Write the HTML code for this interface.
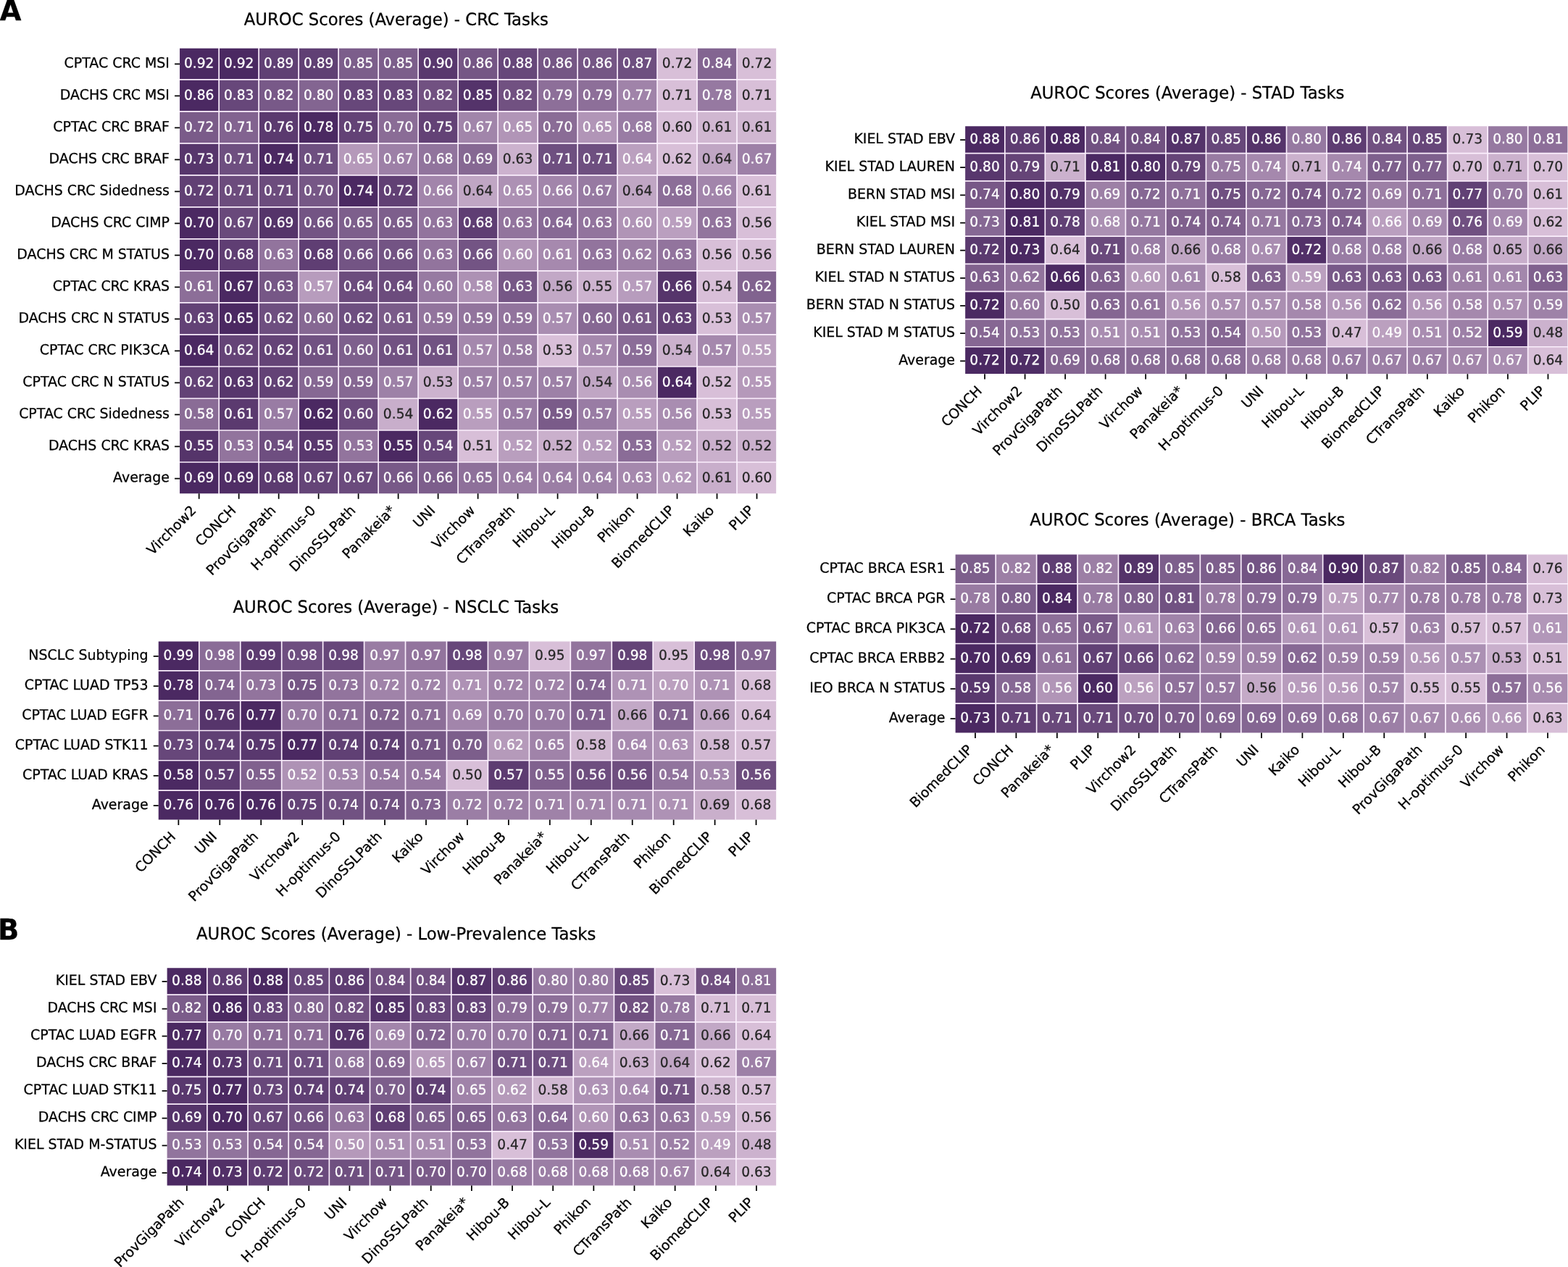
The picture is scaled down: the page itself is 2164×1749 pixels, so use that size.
<!DOCTYPE html>
<html lang="en"><head><meta charset="utf-8"><title>AUROC Scores Heatmaps</title>
<style>
html,body{margin:0;padding:0;background:#fff}
body{width:2164px;height:1749px;overflow:hidden}
svg{display:block;font-family:"DejaVu Sans","Liberation Sans",sans-serif}
text{white-space:pre;stroke:#000;stroke-width:0.27px;stroke-linejoin:round}
.w{fill:#fff;stroke:#fff}
.k{fill:#262626;stroke:#262626}
</style></head><body>
<svg width="2164" height="1749" viewBox="0 0 2164 1749">
<rect width="2164" height="1749" fill="#fff"/>
<text x="-0.2" y="27.9" font-size="38.3" font-weight="bold" fill="#000" stroke="none">A</text><text x="-2.9" y="1296.9" font-size="38.3" font-weight="bold" fill="#000" stroke="none">B</text>
<g>
<clipPath id="cp-crc"><rect x="248.04" y="66.78" width="823.11" height="614.37"/></clipPath>
<g clip-path="url(#cp-crc)"><rect x="247.19" y="65.93" width="54.99" height="44" fill="#4b2962"/><rect x="302.18" y="65.93" width="54.99" height="44" fill="#4b2962"/><rect x="357.16" y="65.93" width="54.99" height="44" fill="#604074"/><rect x="412.15" y="65.93" width="54.99" height="44" fill="#604074"/><rect x="467.14" y="65.93" width="54.99" height="44" fill="#7c5e8b"/><rect x="522.13" y="65.93" width="54.99" height="44" fill="#7c5e8b"/><rect x="577.11" y="65.93" width="54.99" height="44" fill="#59386e"/><rect x="632.1" y="65.93" width="54.99" height="44" fill="#755685"/><rect x="687.09" y="65.93" width="54.99" height="44" fill="#67477a"/><rect x="742.08" y="65.93" width="54.99" height="44" fill="#755685"/><rect x="797.06" y="65.93" width="54.99" height="44" fill="#755685"/><rect x="852.05" y="65.93" width="54.99" height="44" fill="#6e4f80"/><rect x="907.04" y="65.93" width="54.99" height="44" fill="#d8bfd8"/><rect x="962.03" y="65.93" width="54.99" height="44" fill="#836591"/><rect x="1017.01" y="65.93" width="54.99" height="44" fill="#d8bfd8"/><rect x="247.19" y="109.94" width="54.99" height="44" fill="#4b2962"/><rect x="302.18" y="109.94" width="54.99" height="44" fill="#67477a"/><rect x="357.16" y="109.94" width="54.99" height="44" fill="#785988"/><rect x="412.15" y="109.94" width="54.99" height="44" fill="#836591"/><rect x="467.14" y="109.94" width="54.99" height="44" fill="#67477a"/><rect x="522.13" y="109.94" width="54.99" height="44" fill="#67477a"/><rect x="577.11" y="109.94" width="54.99" height="44" fill="#715181"/><rect x="632.1" y="109.94" width="54.99" height="44" fill="#54336a"/><rect x="687.09" y="109.94" width="54.99" height="44" fill="#715181"/><rect x="742.08" y="109.94" width="54.99" height="44" fill="#8d6f99"/><rect x="797.06" y="109.94" width="54.99" height="44" fill="#8d6f99"/><rect x="852.05" y="109.94" width="54.99" height="44" fill="#a083a9"/><rect x="907.04" y="109.94" width="54.99" height="44" fill="#d8bfd8"/><rect x="962.03" y="109.94" width="54.99" height="44" fill="#9679a1"/><rect x="1017.01" y="109.94" width="54.99" height="44" fill="#d8bfd8"/><rect x="247.19" y="153.94" width="54.99" height="44" fill="#7a5b89"/><rect x="302.18" y="153.94" width="54.99" height="44" fill="#826390"/><rect x="357.16" y="153.94" width="54.99" height="44" fill="#5b3a6f"/><rect x="412.15" y="153.94" width="54.99" height="44" fill="#4b2962"/><rect x="467.14" y="153.94" width="54.99" height="44" fill="#634276"/><rect x="522.13" y="153.94" width="54.99" height="44" fill="#8a6c96"/><rect x="577.11" y="153.94" width="54.99" height="44" fill="#634276"/><rect x="632.1" y="153.94" width="54.99" height="44" fill="#a185aa"/><rect x="687.09" y="153.94" width="54.99" height="44" fill="#b195b7"/><rect x="742.08" y="153.94" width="54.99" height="44" fill="#8a6c96"/><rect x="797.06" y="153.94" width="54.99" height="44" fill="#b195b7"/><rect x="852.05" y="153.94" width="54.99" height="44" fill="#997ca4"/><rect x="907.04" y="153.94" width="54.99" height="44" fill="#d8bfd8"/><rect x="962.03" y="153.94" width="54.99" height="44" fill="#d0b7d1"/><rect x="1017.01" y="153.94" width="54.99" height="44" fill="#d0b7d1"/><rect x="247.19" y="197.94" width="54.99" height="44" fill="#57366c"/><rect x="302.18" y="197.94" width="54.99" height="44" fill="#6e4f80"/><rect x="357.16" y="197.94" width="54.99" height="44" fill="#4b2962"/><rect x="412.15" y="197.94" width="54.99" height="44" fill="#6e4f80"/><rect x="467.14" y="197.94" width="54.99" height="44" fill="#b599ba"/><rect x="522.13" y="197.94" width="54.99" height="44" fill="#9d80a7"/><rect x="577.11" y="197.94" width="54.99" height="44" fill="#91749d"/><rect x="632.1" y="197.94" width="54.99" height="44" fill="#866893"/><rect x="687.09" y="197.94" width="54.99" height="44" fill="#ccb2ce"/><rect x="742.08" y="197.94" width="54.99" height="44" fill="#6e4f80"/><rect x="797.06" y="197.94" width="54.99" height="44" fill="#6e4f80"/><rect x="852.05" y="197.94" width="54.99" height="44" fill="#bba0bf"/><rect x="907.04" y="197.94" width="54.99" height="44" fill="#d8bfd8"/><rect x="962.03" y="197.94" width="54.99" height="44" fill="#c0a6c4"/><rect x="1017.01" y="197.94" width="54.99" height="44" fill="#9d80a7"/><rect x="247.19" y="241.95" width="54.99" height="44" fill="#614074"/><rect x="302.18" y="241.95" width="54.99" height="44" fill="#6c4c7d"/><rect x="357.16" y="241.95" width="54.99" height="44" fill="#6c4c7d"/><rect x="412.15" y="241.95" width="54.99" height="44" fill="#765786"/><rect x="467.14" y="241.95" width="54.99" height="44" fill="#4b2962"/><rect x="522.13" y="241.95" width="54.99" height="44" fill="#614074"/><rect x="577.11" y="241.95" width="54.99" height="44" fill="#a285ab"/><rect x="632.1" y="241.95" width="54.99" height="44" fill="#c0a6c4"/><rect x="687.09" y="241.95" width="54.99" height="44" fill="#ad91b4"/><rect x="742.08" y="241.95" width="54.99" height="44" fill="#a285ab"/><rect x="797.06" y="241.95" width="54.99" height="44" fill="#977aa2"/><rect x="852.05" y="241.95" width="54.99" height="44" fill="#c0a6c4"/><rect x="907.04" y="241.95" width="54.99" height="44" fill="#8c6e98"/><rect x="962.03" y="241.95" width="54.99" height="44" fill="#a285ab"/><rect x="1017.01" y="241.95" width="54.99" height="44" fill="#d8bfd8"/><rect x="247.19" y="285.95" width="54.99" height="44" fill="#4b2962"/><rect x="302.18" y="285.95" width="54.99" height="44" fill="#69497b"/><rect x="357.16" y="285.95" width="54.99" height="44" fill="#55346a"/><rect x="412.15" y="285.95" width="54.99" height="44" fill="#735484"/><rect x="467.14" y="285.95" width="54.99" height="44" fill="#7d5f8c"/><rect x="522.13" y="285.95" width="54.99" height="44" fill="#7d5f8c"/><rect x="577.11" y="285.95" width="54.99" height="44" fill="#92749d"/><rect x="632.1" y="285.95" width="54.99" height="44" fill="#5f3e73"/><rect x="687.09" y="285.95" width="54.99" height="44" fill="#92749d"/><rect x="742.08" y="285.95" width="54.99" height="44" fill="#876995"/><rect x="797.06" y="285.95" width="54.99" height="44" fill="#92749d"/><rect x="852.05" y="285.95" width="54.99" height="44" fill="#b094b6"/><rect x="907.04" y="285.95" width="54.99" height="44" fill="#ba9fbf"/><rect x="962.03" y="285.95" width="54.99" height="44" fill="#92749d"/><rect x="1017.01" y="285.95" width="54.99" height="44" fill="#d8bfd8"/><rect x="247.19" y="329.96" width="54.99" height="44" fill="#4b2962"/><rect x="302.18" y="329.96" width="54.99" height="44" fill="#5f3e73"/><rect x="357.16" y="329.96" width="54.99" height="44" fill="#92749d"/><rect x="412.15" y="329.96" width="54.99" height="44" fill="#5f3e73"/><rect x="467.14" y="329.96" width="54.99" height="44" fill="#735484"/><rect x="522.13" y="329.96" width="54.99" height="44" fill="#735484"/><rect x="577.11" y="329.96" width="54.99" height="44" fill="#92749d"/><rect x="632.1" y="329.96" width="54.99" height="44" fill="#735484"/><rect x="687.09" y="329.96" width="54.99" height="44" fill="#b094b6"/><rect x="742.08" y="329.96" width="54.99" height="44" fill="#a689ae"/><rect x="797.06" y="329.96" width="54.99" height="44" fill="#92749d"/><rect x="852.05" y="329.96" width="54.99" height="44" fill="#9c7fa5"/><rect x="907.04" y="329.96" width="54.99" height="44" fill="#92749d"/><rect x="962.03" y="329.96" width="54.99" height="44" fill="#d8bfd8"/><rect x="1017.01" y="329.96" width="54.99" height="44" fill="#d8bfd8"/><rect x="247.19" y="373.96" width="54.99" height="44" fill="#8c6e98"/><rect x="302.18" y="373.96" width="54.99" height="44" fill="#4b2962"/><rect x="357.16" y="373.96" width="54.99" height="44" fill="#765786"/><rect x="412.15" y="373.96" width="54.99" height="44" fill="#b79cbd"/><rect x="467.14" y="373.96" width="54.99" height="44" fill="#6c4c7d"/><rect x="522.13" y="373.96" width="54.99" height="44" fill="#6c4c7d"/><rect x="577.11" y="373.96" width="54.99" height="44" fill="#977aa2"/><rect x="632.1" y="373.96" width="54.99" height="44" fill="#ad91b4"/><rect x="687.09" y="373.96" width="54.99" height="44" fill="#765786"/><rect x="742.08" y="373.96" width="54.99" height="44" fill="#c2a8c6"/><rect x="797.06" y="373.96" width="54.99" height="44" fill="#cdb3cf"/><rect x="852.05" y="373.96" width="54.99" height="44" fill="#b79cbd"/><rect x="907.04" y="373.96" width="54.99" height="44" fill="#56356b"/><rect x="962.03" y="373.96" width="54.99" height="44" fill="#d8bfd8"/><rect x="1017.01" y="373.96" width="54.99" height="44" fill="#81638f"/><rect x="247.19" y="417.97" width="54.99" height="44" fill="#634276"/><rect x="302.18" y="417.97" width="54.99" height="44" fill="#4b2962"/><rect x="357.16" y="417.97" width="54.99" height="44" fill="#6e4f80"/><rect x="412.15" y="417.97" width="54.99" height="44" fill="#866893"/><rect x="467.14" y="417.97" width="54.99" height="44" fill="#6e4f80"/><rect x="522.13" y="417.97" width="54.99" height="44" fill="#7a5b89"/><rect x="577.11" y="417.97" width="54.99" height="44" fill="#92749d"/><rect x="632.1" y="417.97" width="54.99" height="44" fill="#92749d"/><rect x="687.09" y="417.97" width="54.99" height="44" fill="#92749d"/><rect x="742.08" y="417.97" width="54.99" height="44" fill="#a98db1"/><rect x="797.06" y="417.97" width="54.99" height="44" fill="#866893"/><rect x="852.05" y="417.97" width="54.99" height="44" fill="#7a5b89"/><rect x="907.04" y="417.97" width="54.99" height="44" fill="#634276"/><rect x="962.03" y="417.97" width="54.99" height="44" fill="#d8bfd8"/><rect x="1017.01" y="417.97" width="54.99" height="44" fill="#a98db1"/><rect x="247.19" y="461.97" width="54.99" height="44" fill="#4b2962"/><rect x="302.18" y="461.97" width="54.99" height="44" fill="#654477"/><rect x="357.16" y="461.97" width="54.99" height="44" fill="#654477"/><rect x="412.15" y="461.97" width="54.99" height="44" fill="#715282"/><rect x="467.14" y="461.97" width="54.99" height="44" fill="#7e608d"/><rect x="522.13" y="461.97" width="54.99" height="44" fill="#715282"/><rect x="577.11" y="461.97" width="54.99" height="44" fill="#715282"/><rect x="632.1" y="461.97" width="54.99" height="44" fill="#a588ad"/><rect x="687.09" y="461.97" width="54.99" height="44" fill="#987ba2"/><rect x="742.08" y="461.97" width="54.99" height="44" fill="#d8bfd8"/><rect x="797.06" y="461.97" width="54.99" height="44" fill="#a588ad"/><rect x="852.05" y="461.97" width="54.99" height="44" fill="#8b6d98"/><rect x="907.04" y="461.97" width="54.99" height="44" fill="#cbb1cd"/><rect x="962.03" y="461.97" width="54.99" height="44" fill="#a588ad"/><rect x="1017.01" y="461.97" width="54.99" height="44" fill="#bba0bf"/><rect x="247.19" y="505.98" width="54.99" height="44" fill="#634276"/><rect x="302.18" y="505.98" width="54.99" height="44" fill="#57366c"/><rect x="357.16" y="505.98" width="54.99" height="44" fill="#634276"/><rect x="412.15" y="505.98" width="54.99" height="44" fill="#866893"/><rect x="467.14" y="505.98" width="54.99" height="44" fill="#866893"/><rect x="522.13" y="505.98" width="54.99" height="44" fill="#9d81a7"/><rect x="577.11" y="505.98" width="54.99" height="44" fill="#ccb2ce"/><rect x="632.1" y="505.98" width="54.99" height="44" fill="#9d81a7"/><rect x="687.09" y="505.98" width="54.99" height="44" fill="#9d81a7"/><rect x="742.08" y="505.98" width="54.99" height="44" fill="#9d81a7"/><rect x="797.06" y="505.98" width="54.99" height="44" fill="#c0a6c4"/><rect x="852.05" y="505.98" width="54.99" height="44" fill="#a98db1"/><rect x="907.04" y="505.98" width="54.99" height="44" fill="#4b2962"/><rect x="962.03" y="505.98" width="54.99" height="44" fill="#d8bfd8"/><rect x="1017.01" y="505.98" width="54.99" height="44" fill="#b599ba"/><rect x="247.19" y="549.98" width="54.99" height="44" fill="#8a6c96"/><rect x="302.18" y="549.98" width="54.99" height="44" fill="#5b3a6f"/><rect x="357.16" y="549.98" width="54.99" height="44" fill="#997ca4"/><rect x="412.15" y="549.98" width="54.99" height="44" fill="#4b2962"/><rect x="467.14" y="549.98" width="54.99" height="44" fill="#6a4a7c"/><rect x="522.13" y="549.98" width="54.99" height="44" fill="#c8aecb"/><rect x="577.11" y="549.98" width="54.99" height="44" fill="#4b2962"/><rect x="632.1" y="549.98" width="54.99" height="44" fill="#b99ebe"/><rect x="687.09" y="549.98" width="54.99" height="44" fill="#997ca4"/><rect x="742.08" y="549.98" width="54.99" height="44" fill="#7a5b89"/><rect x="797.06" y="549.98" width="54.99" height="44" fill="#997ca4"/><rect x="852.05" y="549.98" width="54.99" height="44" fill="#b99ebe"/><rect x="907.04" y="549.98" width="54.99" height="44" fill="#a98db1"/><rect x="962.03" y="549.98" width="54.99" height="44" fill="#d8bfd8"/><rect x="1017.01" y="549.98" width="54.99" height="44" fill="#b99ebe"/><rect x="247.19" y="593.99" width="54.99" height="44" fill="#55346a"/><rect x="302.18" y="593.99" width="54.99" height="44" fill="#92749d"/><rect x="357.16" y="593.99" width="54.99" height="44" fill="#6e4e80"/><rect x="412.15" y="593.99" width="54.99" height="44" fill="#59386e"/><rect x="467.14" y="593.99" width="54.99" height="44" fill="#92749d"/><rect x="522.13" y="593.99" width="54.99" height="44" fill="#4b2962"/><rect x="577.11" y="593.99" width="54.99" height="44" fill="#67477a"/><rect x="632.1" y="593.99" width="54.99" height="44" fill="#d8bfd8"/><rect x="687.09" y="593.99" width="54.99" height="44" fill="#b99ebe"/><rect x="742.08" y="593.99" width="54.99" height="44" fill="#cab0cc"/><rect x="797.06" y="593.99" width="54.99" height="44" fill="#b69bbc"/><rect x="852.05" y="593.99" width="54.99" height="44" fill="#8a6c97"/><rect x="907.04" y="593.99" width="54.99" height="44" fill="#b99ebe"/><rect x="962.03" y="593.99" width="54.99" height="44" fill="#cab0cc"/><rect x="1017.01" y="593.99" width="54.99" height="44" fill="#cab0cc"/><rect x="247.19" y="637.99" width="54.99" height="44" fill="#4b2962"/><rect x="302.18" y="637.99" width="54.99" height="44" fill="#502e66"/><rect x="357.16" y="637.99" width="54.99" height="44" fill="#5c3b70"/><rect x="412.15" y="637.99" width="54.99" height="44" fill="#654578"/><rect x="467.14" y="637.99" width="54.99" height="44" fill="#6b4b7d"/><rect x="522.13" y="637.99" width="54.99" height="44" fill="#785988"/><rect x="577.11" y="637.99" width="54.99" height="44" fill="#7d5e8c"/><rect x="632.1" y="637.99" width="54.99" height="44" fill="#8e709a"/><rect x="687.09" y="637.99" width="54.99" height="44" fill="#9a7da4"/><rect x="742.08" y="637.99" width="54.99" height="44" fill="#9b7ea5"/><rect x="797.06" y="637.99" width="54.99" height="44" fill="#9d81a7"/><rect x="852.05" y="637.99" width="54.99" height="44" fill="#a588ad"/><rect x="907.04" y="637.99" width="54.99" height="44" fill="#b499ba"/><rect x="962.03" y="637.99" width="54.99" height="44" fill="#c8aecb"/><rect x="1017.01" y="637.99" width="54.99" height="44" fill="#d8bfd8"/></g>
<path d="M302.18 65.93V682M357.16 65.93V682M412.15 65.93V682M467.14 65.93V682M522.13 65.93V682M577.11 65.93V682M632.1 65.93V682M687.09 65.93V682M742.08 65.93V682M797.06 65.93V682M852.05 65.93V682M907.04 65.93V682M962.03 65.93V682M1017.01 65.93V682" stroke="#fbeffd" stroke-opacity="1" stroke-width="1.7" fill="none"/>
<path d="M247.19 109.94H1072M247.19 153.94H1072M247.19 197.94H1072M247.19 241.95H1072M247.19 285.95H1072M247.19 329.96H1072M247.19 373.96H1072M247.19 417.97H1072M247.19 461.97H1072M247.19 505.98H1072M247.19 549.98H1072M247.19 593.99H1072M247.19 637.99H1072" stroke="#fbeffd" stroke-opacity="1" stroke-width="1.7" fill="none"/>
<g font-size="18.65" text-anchor="middle"><text class="w" transform="matrix(1 0.0005 0 1.02 274.68 93.38)">0.92</text><text class="w" transform="matrix(1 0.0005 0 1.02 329.67 93.38)">0.92</text><text class="w" transform="matrix(1 0.0005 0 1.02 384.66 93.38)">0.89</text><text class="w" transform="matrix(1 0.0005 0 1.02 439.65 93.38)">0.89</text><text class="w" transform="matrix(1 0.0005 0 1.02 494.63 93.38)">0.85</text><text class="w" transform="matrix(1 0.0005 0 1.02 549.62 93.38)">0.85</text><text class="w" transform="matrix(1 0.0005 0 1.02 604.61 93.38)">0.90</text><text class="w" transform="matrix(1 0.0005 0 1.02 659.59 93.38)">0.86</text><text class="w" transform="matrix(1 0.0005 0 1.02 714.58 93.38)">0.88</text><text class="w" transform="matrix(1 0.0005 0 1.02 769.57 93.38)">0.86</text><text class="w" transform="matrix(1 0.0005 0 1.02 824.56 93.38)">0.86</text><text class="w" transform="matrix(1 0.0005 0 1.02 879.54 93.38)">0.87</text><text class="k" transform="matrix(1 0.0005 0 1.02 934.53 93.38)">0.72</text><text class="w" transform="matrix(1 0.0005 0 1.02 989.52 93.38)">0.84</text><text class="k" transform="matrix(1 0.0005 0 1.02 1044.51 93.38)">0.72</text><text class="w" transform="matrix(1 0.0005 0 1.02 274.68 137.39)">0.86</text><text class="w" transform="matrix(1 0.0005 0 1.02 329.67 137.39)">0.83</text><text class="w" transform="matrix(1 0.0005 0 1.02 384.66 137.39)">0.82</text><text class="w" transform="matrix(1 0.0005 0 1.02 439.65 137.39)">0.80</text><text class="w" transform="matrix(1 0.0005 0 1.02 494.63 137.39)">0.83</text><text class="w" transform="matrix(1 0.0005 0 1.02 549.62 137.39)">0.83</text><text class="w" transform="matrix(1 0.0005 0 1.02 604.61 137.39)">0.82</text><text class="w" transform="matrix(1 0.0005 0 1.02 659.59 137.39)">0.85</text><text class="w" transform="matrix(1 0.0005 0 1.02 714.58 137.39)">0.82</text><text class="w" transform="matrix(1 0.0005 0 1.02 769.57 137.39)">0.79</text><text class="w" transform="matrix(1 0.0005 0 1.02 824.56 137.39)">0.79</text><text class="w" transform="matrix(1 0.0005 0 1.02 879.54 137.39)">0.77</text><text class="k" transform="matrix(1 0.0005 0 1.02 934.53 137.39)">0.71</text><text class="w" transform="matrix(1 0.0005 0 1.02 989.52 137.39)">0.78</text><text class="k" transform="matrix(1 0.0005 0 1.02 1044.51 137.39)">0.71</text><text class="w" transform="matrix(1 0.0005 0 1.02 274.68 181.39)">0.72</text><text class="w" transform="matrix(1 0.0005 0 1.02 329.67 181.39)">0.71</text><text class="w" transform="matrix(1 0.0005 0 1.02 384.66 181.39)">0.76</text><text class="w" transform="matrix(1 0.0005 0 1.02 439.65 181.39)">0.78</text><text class="w" transform="matrix(1 0.0005 0 1.02 494.63 181.39)">0.75</text><text class="w" transform="matrix(1 0.0005 0 1.02 549.62 181.39)">0.70</text><text class="w" transform="matrix(1 0.0005 0 1.02 604.61 181.39)">0.75</text><text class="w" transform="matrix(1 0.0005 0 1.02 659.59 181.39)">0.67</text><text class="w" transform="matrix(1 0.0005 0 1.02 714.58 181.39)">0.65</text><text class="w" transform="matrix(1 0.0005 0 1.02 769.57 181.39)">0.70</text><text class="w" transform="matrix(1 0.0005 0 1.02 824.56 181.39)">0.65</text><text class="w" transform="matrix(1 0.0005 0 1.02 879.54 181.39)">0.68</text><text class="k" transform="matrix(1 0.0005 0 1.02 934.53 181.39)">0.60</text><text class="k" transform="matrix(1 0.0005 0 1.02 989.52 181.39)">0.61</text><text class="k" transform="matrix(1 0.0005 0 1.02 1044.51 181.39)">0.61</text><text class="w" transform="matrix(1 0.0005 0 1.02 274.68 225.4)">0.73</text><text class="w" transform="matrix(1 0.0005 0 1.02 329.67 225.4)">0.71</text><text class="w" transform="matrix(1 0.0005 0 1.02 384.66 225.4)">0.74</text><text class="w" transform="matrix(1 0.0005 0 1.02 439.65 225.4)">0.71</text><text class="w" transform="matrix(1 0.0005 0 1.02 494.63 225.4)">0.65</text><text class="w" transform="matrix(1 0.0005 0 1.02 549.62 225.4)">0.67</text><text class="w" transform="matrix(1 0.0005 0 1.02 604.61 225.4)">0.68</text><text class="w" transform="matrix(1 0.0005 0 1.02 659.59 225.4)">0.69</text><text class="k" transform="matrix(1 0.0005 0 1.02 714.58 225.4)">0.63</text><text class="w" transform="matrix(1 0.0005 0 1.02 769.57 225.4)">0.71</text><text class="w" transform="matrix(1 0.0005 0 1.02 824.56 225.4)">0.71</text><text class="w" transform="matrix(1 0.0005 0 1.02 879.54 225.4)">0.64</text><text class="k" transform="matrix(1 0.0005 0 1.02 934.53 225.4)">0.62</text><text class="k" transform="matrix(1 0.0005 0 1.02 989.52 225.4)">0.64</text><text class="w" transform="matrix(1 0.0005 0 1.02 1044.51 225.4)">0.67</text><text class="w" transform="matrix(1 0.0005 0 1.02 274.68 269.4)">0.72</text><text class="w" transform="matrix(1 0.0005 0 1.02 329.67 269.4)">0.71</text><text class="w" transform="matrix(1 0.0005 0 1.02 384.66 269.4)">0.71</text><text class="w" transform="matrix(1 0.0005 0 1.02 439.65 269.4)">0.70</text><text class="w" transform="matrix(1 0.0005 0 1.02 494.63 269.4)">0.74</text><text class="w" transform="matrix(1 0.0005 0 1.02 549.62 269.4)">0.72</text><text class="w" transform="matrix(1 0.0005 0 1.02 604.61 269.4)">0.66</text><text class="k" transform="matrix(1 0.0005 0 1.02 659.59 269.4)">0.64</text><text class="w" transform="matrix(1 0.0005 0 1.02 714.58 269.4)">0.65</text><text class="w" transform="matrix(1 0.0005 0 1.02 769.57 269.4)">0.66</text><text class="w" transform="matrix(1 0.0005 0 1.02 824.56 269.4)">0.67</text><text class="k" transform="matrix(1 0.0005 0 1.02 879.54 269.4)">0.64</text><text class="w" transform="matrix(1 0.0005 0 1.02 934.53 269.4)">0.68</text><text class="w" transform="matrix(1 0.0005 0 1.02 989.52 269.4)">0.66</text><text class="k" transform="matrix(1 0.0005 0 1.02 1044.51 269.4)">0.61</text><text class="w" transform="matrix(1 0.0005 0 1.02 274.68 313.41)">0.70</text><text class="w" transform="matrix(1 0.0005 0 1.02 329.67 313.41)">0.67</text><text class="w" transform="matrix(1 0.0005 0 1.02 384.66 313.41)">0.69</text><text class="w" transform="matrix(1 0.0005 0 1.02 439.65 313.41)">0.66</text><text class="w" transform="matrix(1 0.0005 0 1.02 494.63 313.41)">0.65</text><text class="w" transform="matrix(1 0.0005 0 1.02 549.62 313.41)">0.65</text><text class="w" transform="matrix(1 0.0005 0 1.02 604.61 313.41)">0.63</text><text class="w" transform="matrix(1 0.0005 0 1.02 659.59 313.41)">0.68</text><text class="w" transform="matrix(1 0.0005 0 1.02 714.58 313.41)">0.63</text><text class="w" transform="matrix(1 0.0005 0 1.02 769.57 313.41)">0.64</text><text class="w" transform="matrix(1 0.0005 0 1.02 824.56 313.41)">0.63</text><text class="w" transform="matrix(1 0.0005 0 1.02 879.54 313.41)">0.60</text><text class="w" transform="matrix(1 0.0005 0 1.02 934.53 313.41)">0.59</text><text class="w" transform="matrix(1 0.0005 0 1.02 989.52 313.41)">0.63</text><text class="k" transform="matrix(1 0.0005 0 1.02 1044.51 313.41)">0.56</text><text class="w" transform="matrix(1 0.0005 0 1.02 274.68 357.41)">0.70</text><text class="w" transform="matrix(1 0.0005 0 1.02 329.67 357.41)">0.68</text><text class="w" transform="matrix(1 0.0005 0 1.02 384.66 357.41)">0.63</text><text class="w" transform="matrix(1 0.0005 0 1.02 439.65 357.41)">0.68</text><text class="w" transform="matrix(1 0.0005 0 1.02 494.63 357.41)">0.66</text><text class="w" transform="matrix(1 0.0005 0 1.02 549.62 357.41)">0.66</text><text class="w" transform="matrix(1 0.0005 0 1.02 604.61 357.41)">0.63</text><text class="w" transform="matrix(1 0.0005 0 1.02 659.59 357.41)">0.66</text><text class="w" transform="matrix(1 0.0005 0 1.02 714.58 357.41)">0.60</text><text class="w" transform="matrix(1 0.0005 0 1.02 769.57 357.41)">0.61</text><text class="w" transform="matrix(1 0.0005 0 1.02 824.56 357.41)">0.63</text><text class="w" transform="matrix(1 0.0005 0 1.02 879.54 357.41)">0.62</text><text class="w" transform="matrix(1 0.0005 0 1.02 934.53 357.41)">0.63</text><text class="k" transform="matrix(1 0.0005 0 1.02 989.52 357.41)">0.56</text><text class="k" transform="matrix(1 0.0005 0 1.02 1044.51 357.41)">0.56</text><text class="w" transform="matrix(1 0.0005 0 1.02 274.68 401.42)">0.61</text><text class="w" transform="matrix(1 0.0005 0 1.02 329.67 401.42)">0.67</text><text class="w" transform="matrix(1 0.0005 0 1.02 384.66 401.42)">0.63</text><text class="w" transform="matrix(1 0.0005 0 1.02 439.65 401.42)">0.57</text><text class="w" transform="matrix(1 0.0005 0 1.02 494.63 401.42)">0.64</text><text class="w" transform="matrix(1 0.0005 0 1.02 549.62 401.42)">0.64</text><text class="w" transform="matrix(1 0.0005 0 1.02 604.61 401.42)">0.60</text><text class="w" transform="matrix(1 0.0005 0 1.02 659.59 401.42)">0.58</text><text class="w" transform="matrix(1 0.0005 0 1.02 714.58 401.42)">0.63</text><text class="k" transform="matrix(1 0.0005 0 1.02 769.57 401.42)">0.56</text><text class="k" transform="matrix(1 0.0005 0 1.02 824.56 401.42)">0.55</text><text class="w" transform="matrix(1 0.0005 0 1.02 879.54 401.42)">0.57</text><text class="w" transform="matrix(1 0.0005 0 1.02 934.53 401.42)">0.66</text><text class="k" transform="matrix(1 0.0005 0 1.02 989.52 401.42)">0.54</text><text class="w" transform="matrix(1 0.0005 0 1.02 1044.51 401.42)">0.62</text><text class="w" transform="matrix(1 0.0005 0 1.02 274.68 445.42)">0.63</text><text class="w" transform="matrix(1 0.0005 0 1.02 329.67 445.42)">0.65</text><text class="w" transform="matrix(1 0.0005 0 1.02 384.66 445.42)">0.62</text><text class="w" transform="matrix(1 0.0005 0 1.02 439.65 445.42)">0.60</text><text class="w" transform="matrix(1 0.0005 0 1.02 494.63 445.42)">0.62</text><text class="w" transform="matrix(1 0.0005 0 1.02 549.62 445.42)">0.61</text><text class="w" transform="matrix(1 0.0005 0 1.02 604.61 445.42)">0.59</text><text class="w" transform="matrix(1 0.0005 0 1.02 659.59 445.42)">0.59</text><text class="w" transform="matrix(1 0.0005 0 1.02 714.58 445.42)">0.59</text><text class="w" transform="matrix(1 0.0005 0 1.02 769.57 445.42)">0.57</text><text class="w" transform="matrix(1 0.0005 0 1.02 824.56 445.42)">0.60</text><text class="w" transform="matrix(1 0.0005 0 1.02 879.54 445.42)">0.61</text><text class="w" transform="matrix(1 0.0005 0 1.02 934.53 445.42)">0.63</text><text class="k" transform="matrix(1 0.0005 0 1.02 989.52 445.42)">0.53</text><text class="w" transform="matrix(1 0.0005 0 1.02 1044.51 445.42)">0.57</text><text class="w" transform="matrix(1 0.0005 0 1.02 274.68 489.43)">0.64</text><text class="w" transform="matrix(1 0.0005 0 1.02 329.67 489.43)">0.62</text><text class="w" transform="matrix(1 0.0005 0 1.02 384.66 489.43)">0.62</text><text class="w" transform="matrix(1 0.0005 0 1.02 439.65 489.43)">0.61</text><text class="w" transform="matrix(1 0.0005 0 1.02 494.63 489.43)">0.60</text><text class="w" transform="matrix(1 0.0005 0 1.02 549.62 489.43)">0.61</text><text class="w" transform="matrix(1 0.0005 0 1.02 604.61 489.43)">0.61</text><text class="w" transform="matrix(1 0.0005 0 1.02 659.59 489.43)">0.57</text><text class="w" transform="matrix(1 0.0005 0 1.02 714.58 489.43)">0.58</text><text class="k" transform="matrix(1 0.0005 0 1.02 769.57 489.43)">0.53</text><text class="w" transform="matrix(1 0.0005 0 1.02 824.56 489.43)">0.57</text><text class="w" transform="matrix(1 0.0005 0 1.02 879.54 489.43)">0.59</text><text class="k" transform="matrix(1 0.0005 0 1.02 934.53 489.43)">0.54</text><text class="w" transform="matrix(1 0.0005 0 1.02 989.52 489.43)">0.57</text><text class="w" transform="matrix(1 0.0005 0 1.02 1044.51 489.43)">0.55</text><text class="w" transform="matrix(1 0.0005 0 1.02 274.68 533.43)">0.62</text><text class="w" transform="matrix(1 0.0005 0 1.02 329.67 533.43)">0.63</text><text class="w" transform="matrix(1 0.0005 0 1.02 384.66 533.43)">0.62</text><text class="w" transform="matrix(1 0.0005 0 1.02 439.65 533.43)">0.59</text><text class="w" transform="matrix(1 0.0005 0 1.02 494.63 533.43)">0.59</text><text class="w" transform="matrix(1 0.0005 0 1.02 549.62 533.43)">0.57</text><text class="k" transform="matrix(1 0.0005 0 1.02 604.61 533.43)">0.53</text><text class="w" transform="matrix(1 0.0005 0 1.02 659.59 533.43)">0.57</text><text class="w" transform="matrix(1 0.0005 0 1.02 714.58 533.43)">0.57</text><text class="w" transform="matrix(1 0.0005 0 1.02 769.57 533.43)">0.57</text><text class="k" transform="matrix(1 0.0005 0 1.02 824.56 533.43)">0.54</text><text class="w" transform="matrix(1 0.0005 0 1.02 879.54 533.43)">0.56</text><text class="w" transform="matrix(1 0.0005 0 1.02 934.53 533.43)">0.64</text><text class="k" transform="matrix(1 0.0005 0 1.02 989.52 533.43)">0.52</text><text class="w" transform="matrix(1 0.0005 0 1.02 1044.51 533.43)">0.55</text><text class="w" transform="matrix(1 0.0005 0 1.02 274.68 577.44)">0.58</text><text class="w" transform="matrix(1 0.0005 0 1.02 329.67 577.44)">0.61</text><text class="w" transform="matrix(1 0.0005 0 1.02 384.66 577.44)">0.57</text><text class="w" transform="matrix(1 0.0005 0 1.02 439.65 577.44)">0.62</text><text class="w" transform="matrix(1 0.0005 0 1.02 494.63 577.44)">0.60</text><text class="k" transform="matrix(1 0.0005 0 1.02 549.62 577.44)">0.54</text><text class="w" transform="matrix(1 0.0005 0 1.02 604.61 577.44)">0.62</text><text class="w" transform="matrix(1 0.0005 0 1.02 659.59 577.44)">0.55</text><text class="w" transform="matrix(1 0.0005 0 1.02 714.58 577.44)">0.57</text><text class="w" transform="matrix(1 0.0005 0 1.02 769.57 577.44)">0.59</text><text class="w" transform="matrix(1 0.0005 0 1.02 824.56 577.44)">0.57</text><text class="w" transform="matrix(1 0.0005 0 1.02 879.54 577.44)">0.55</text><text class="w" transform="matrix(1 0.0005 0 1.02 934.53 577.44)">0.56</text><text class="k" transform="matrix(1 0.0005 0 1.02 989.52 577.44)">0.53</text><text class="w" transform="matrix(1 0.0005 0 1.02 1044.51 577.44)">0.55</text><text class="w" transform="matrix(1 0.0005 0 1.02 274.68 621.44)">0.55</text><text class="w" transform="matrix(1 0.0005 0 1.02 329.67 621.44)">0.53</text><text class="w" transform="matrix(1 0.0005 0 1.02 384.66 621.44)">0.54</text><text class="w" transform="matrix(1 0.0005 0 1.02 439.65 621.44)">0.55</text><text class="w" transform="matrix(1 0.0005 0 1.02 494.63 621.44)">0.53</text><text class="w" transform="matrix(1 0.0005 0 1.02 549.62 621.44)">0.55</text><text class="w" transform="matrix(1 0.0005 0 1.02 604.61 621.44)">0.54</text><text class="k" transform="matrix(1 0.0005 0 1.02 659.59 621.44)">0.51</text><text class="w" transform="matrix(1 0.0005 0 1.02 714.58 621.44)">0.52</text><text class="k" transform="matrix(1 0.0005 0 1.02 769.57 621.44)">0.52</text><text class="w" transform="matrix(1 0.0005 0 1.02 824.56 621.44)">0.52</text><text class="w" transform="matrix(1 0.0005 0 1.02 879.54 621.44)">0.53</text><text class="w" transform="matrix(1 0.0005 0 1.02 934.53 621.44)">0.52</text><text class="k" transform="matrix(1 0.0005 0 1.02 989.52 621.44)">0.52</text><text class="k" transform="matrix(1 0.0005 0 1.02 1044.51 621.44)">0.52</text><text class="w" transform="matrix(1 0.0005 0 1.02 274.68 665.45)">0.69</text><text class="w" transform="matrix(1 0.0005 0 1.02 329.67 665.45)">0.69</text><text class="w" transform="matrix(1 0.0005 0 1.02 384.66 665.45)">0.68</text><text class="w" transform="matrix(1 0.0005 0 1.02 439.65 665.45)">0.67</text><text class="w" transform="matrix(1 0.0005 0 1.02 494.63 665.45)">0.67</text><text class="w" transform="matrix(1 0.0005 0 1.02 549.62 665.45)">0.66</text><text class="w" transform="matrix(1 0.0005 0 1.02 604.61 665.45)">0.66</text><text class="w" transform="matrix(1 0.0005 0 1.02 659.59 665.45)">0.65</text><text class="w" transform="matrix(1 0.0005 0 1.02 714.58 665.45)">0.64</text><text class="w" transform="matrix(1 0.0005 0 1.02 769.57 665.45)">0.64</text><text class="w" transform="matrix(1 0.0005 0 1.02 824.56 665.45)">0.64</text><text class="w" transform="matrix(1 0.0005 0 1.02 879.54 665.45)">0.63</text><text class="w" transform="matrix(1 0.0005 0 1.02 934.53 665.45)">0.62</text><text class="k" transform="matrix(1 0.0005 0 1.02 989.52 665.45)">0.61</text><text class="k" transform="matrix(1 0.0005 0 1.02 1044.51 665.45)">0.60</text></g>
<path d="M241.05 88.43H247.99M241.05 132.44H247.99M241.05 176.44H247.99M241.05 220.45H247.99M241.05 264.45H247.99M241.05 308.46H247.99M241.05 352.46H247.99M241.05 396.47H247.99M241.05 440.47H247.99M241.05 484.48H247.99M241.05 528.48H247.99M241.05 572.49H247.99M241.05 616.49H247.99M241.05 660.5H247.99M274.68 681.2V688.64M329.67 681.2V688.64M384.66 681.2V688.64M439.65 681.2V688.64M494.63 681.2V688.64M549.62 681.2V688.64M604.61 681.2V688.64M659.6 681.2V688.64M714.58 681.2V688.64M769.57 681.2V688.64M824.56 681.2V688.64M879.54 681.2V688.64M934.53 681.2V688.64M989.52 681.2V688.64M1044.51 681.2V688.64" stroke="#000" stroke-width="1.75" fill="none"/>
<g font-size="18.96" text-anchor="end" fill="#000"><text transform="matrix(1 0.0005 0 1.02 233.92 93.28)">CPTAC CRC MSI</text><text transform="matrix(1 0.0005 0 1.02 233.92 137.29)">DACHS CRC MSI</text><text transform="matrix(1 0.0005 0 1.02 233.92 181.29)">CPTAC CRC BRAF</text><text transform="matrix(1 0.0005 0 1.02 233.92 225.3)">DACHS CRC BRAF</text><text transform="matrix(1 0.0005 0 1.02 233.92 269.3)">DACHS CRC Sidedness</text><text transform="matrix(1 0.0005 0 1.02 233.92 313.31)">DACHS CRC CIMP</text><text transform="matrix(1 0.0005 0 1.02 233.92 357.31)">DACHS CRC M STATUS</text><text transform="matrix(1 0.0005 0 1.02 233.92 401.32)">CPTAC CRC KRAS</text><text transform="matrix(1 0.0005 0 1.02 233.92 445.32)">DACHS CRC N STATUS</text><text transform="matrix(1 0.0005 0 1.02 233.92 489.33)">CPTAC CRC PIK3CA</text><text transform="matrix(1 0.0005 0 1.02 233.92 533.33)">CPTAC CRC N STATUS</text><text transform="matrix(1 0.0005 0 1.02 233.92 577.34)">CPTAC CRC Sidedness</text><text transform="matrix(1 0.0005 0 1.02 233.92 621.34)">DACHS CRC KRAS</text><text transform="matrix(1 0.0005 0 1.02 233.92 665.35)">Average</text></g>
<g font-size="18.96" text-anchor="end" fill="#000"><text transform="translate(271.87 705.76) rotate(-45)">Virchow2</text><text transform="translate(326.86 705.76) rotate(-45)">CONCH</text><text transform="translate(381.84 705.76) rotate(-45)">ProvGigaPath</text><text transform="translate(436.83 705.76) rotate(-45)">H-optimus-0</text><text transform="translate(491.82 705.76) rotate(-45)">DinoSSLPath</text><text transform="translate(546.8 705.76) rotate(-45)">Panakeia*</text><text transform="translate(601.79 705.76) rotate(-45)">UNI</text><text transform="translate(656.78 705.76) rotate(-45)">Virchow</text><text transform="translate(711.77 705.76) rotate(-45)">CTransPath</text><text transform="translate(766.75 705.76) rotate(-45)">Hibou-L</text><text transform="translate(821.74 705.76) rotate(-45)">Hibou-B</text><text transform="translate(876.73 705.76) rotate(-45)">Phikon</text><text transform="translate(931.72 705.76) rotate(-45)">BiomedCLIP</text><text transform="translate(986.7 705.76) rotate(-45)">Kaiko</text><text transform="translate(1041.69 705.76) rotate(-45)">PLIP</text></g>
<text transform="matrix(1 0.0005 0 1.03 546.8 34.7)" font-size="22.75" text-anchor="middle" fill="#000">AUROC Scores (Average) - CRC Tasks</text>
</g>
<g>
<clipPath id="cp-nsclc"><rect x="218.74" y="885.53" width="852.41" height="245.93"/></clipPath>
<g clip-path="url(#cp-nsclc)"><rect x="217.89" y="884.68" width="56.94" height="41.27" fill="#4b2962"/><rect x="274.83" y="884.68" width="56.94" height="41.27" fill="#8a6c97"/><rect x="331.77" y="884.68" width="56.94" height="41.27" fill="#5d3c71"/><rect x="388.71" y="884.68" width="56.94" height="41.27" fill="#6e4e80"/><rect x="445.65" y="884.68" width="56.94" height="41.27" fill="#67477a"/><rect x="502.59" y="884.68" width="56.94" height="41.27" fill="#997ca3"/><rect x="559.53" y="884.68" width="56.94" height="41.27" fill="#92749d"/><rect x="616.47" y="884.68" width="56.94" height="41.27" fill="#67477a"/><rect x="673.42" y="884.68" width="56.94" height="41.27" fill="#997ca3"/><rect x="730.36" y="884.68" width="56.94" height="41.27" fill="#d8bfd8"/><rect x="787.3" y="884.68" width="56.94" height="41.27" fill="#92749d"/><rect x="844.24" y="884.68" width="56.94" height="41.27" fill="#644477"/><rect x="901.18" y="884.68" width="56.94" height="41.27" fill="#d8bfd8"/><rect x="958.12" y="884.68" width="56.94" height="41.27" fill="#6e4e80"/><rect x="1015.06" y="884.68" width="56.94" height="41.27" fill="#836591"/><rect x="217.89" y="925.95" width="56.94" height="41.27" fill="#4b2962"/><rect x="274.83" y="925.95" width="56.94" height="41.27" fill="#836591"/><rect x="331.77" y="925.95" width="56.94" height="41.27" fill="#92749d"/><rect x="388.71" y="925.95" width="56.94" height="41.27" fill="#755685"/><rect x="445.65" y="925.95" width="56.94" height="41.27" fill="#92749d"/><rect x="502.59" y="925.95" width="56.94" height="41.27" fill="#a083a9"/><rect x="559.53" y="925.95" width="56.94" height="41.27" fill="#a083a9"/><rect x="616.47" y="925.95" width="56.94" height="41.27" fill="#ae92b5"/><rect x="673.42" y="925.95" width="56.94" height="41.27" fill="#a083a9"/><rect x="730.36" y="925.95" width="56.94" height="41.27" fill="#a083a9"/><rect x="787.3" y="925.95" width="56.94" height="41.27" fill="#836591"/><rect x="844.24" y="925.95" width="56.94" height="41.27" fill="#ae92b5"/><rect x="901.18" y="925.95" width="56.94" height="41.27" fill="#bba0bf"/><rect x="958.12" y="925.95" width="56.94" height="41.27" fill="#ae92b5"/><rect x="1015.06" y="925.95" width="56.94" height="41.27" fill="#d8bfd8"/><rect x="217.89" y="967.22" width="56.94" height="41.27" fill="#8c6e98"/><rect x="274.83" y="967.22" width="56.94" height="41.27" fill="#56356b"/><rect x="331.77" y="967.22" width="56.94" height="41.27" fill="#4b2962"/><rect x="388.71" y="967.22" width="56.94" height="41.27" fill="#977aa2"/><rect x="445.65" y="967.22" width="56.94" height="41.27" fill="#8c6e98"/><rect x="502.59" y="967.22" width="56.94" height="41.27" fill="#81638f"/><rect x="559.53" y="967.22" width="56.94" height="41.27" fill="#8c6e98"/><rect x="616.47" y="967.22" width="56.94" height="41.27" fill="#a285ab"/><rect x="673.42" y="967.22" width="56.94" height="41.27" fill="#977aa2"/><rect x="730.36" y="967.22" width="56.94" height="41.27" fill="#977aa2"/><rect x="787.3" y="967.22" width="56.94" height="41.27" fill="#81628f"/><rect x="844.24" y="967.22" width="56.94" height="41.27" fill="#c2a8c6"/><rect x="901.18" y="967.22" width="56.94" height="41.27" fill="#836591"/><rect x="958.12" y="967.22" width="56.94" height="41.27" fill="#c2a8c6"/><rect x="1015.06" y="967.22" width="56.94" height="41.27" fill="#d8bfd8"/><rect x="217.89" y="1008.49" width="56.94" height="41.27" fill="#67477a"/><rect x="274.83" y="1008.49" width="56.94" height="41.27" fill="#604074"/><rect x="331.77" y="1008.49" width="56.94" height="41.27" fill="#59386e"/><rect x="388.71" y="1008.49" width="56.94" height="41.27" fill="#4b2962"/><rect x="445.65" y="1008.49" width="56.94" height="41.27" fill="#604074"/><rect x="502.59" y="1008.49" width="56.94" height="41.27" fill="#604074"/><rect x="559.53" y="1008.49" width="56.94" height="41.27" fill="#755685"/><rect x="616.47" y="1008.49" width="56.94" height="41.27" fill="#7c5e8b"/><rect x="673.42" y="1008.49" width="56.94" height="41.27" fill="#b59aba"/><rect x="730.36" y="1008.49" width="56.94" height="41.27" fill="#a083a9"/><rect x="787.3" y="1008.49" width="56.94" height="41.27" fill="#d1b8d2"/><rect x="844.24" y="1008.49" width="56.94" height="41.27" fill="#a78aaf"/><rect x="901.18" y="1008.49" width="56.94" height="41.27" fill="#ae92b5"/><rect x="958.12" y="1008.49" width="56.94" height="41.27" fill="#d1b8d2"/><rect x="1015.06" y="1008.49" width="56.94" height="41.27" fill="#d8bfd8"/><rect x="217.89" y="1049.77" width="56.94" height="41.27" fill="#4b2962"/><rect x="274.83" y="1049.77" width="56.94" height="41.27" fill="#5d3c71"/><rect x="331.77" y="1049.77" width="56.94" height="41.27" fill="#80618e"/><rect x="388.71" y="1049.77" width="56.94" height="41.27" fill="#ae92b5"/><rect x="445.65" y="1049.77" width="56.94" height="41.27" fill="#a387ac"/><rect x="502.59" y="1049.77" width="56.94" height="41.27" fill="#9678a1"/><rect x="559.53" y="1049.77" width="56.94" height="41.27" fill="#9678a1"/><rect x="616.47" y="1049.77" width="56.94" height="41.27" fill="#d8bfd8"/><rect x="673.42" y="1049.77" width="56.94" height="41.27" fill="#5d3c71"/><rect x="730.36" y="1049.77" width="56.94" height="41.27" fill="#80618e"/><rect x="787.3" y="1049.77" width="56.94" height="41.27" fill="#6e4e7f"/><rect x="844.24" y="1049.77" width="56.94" height="41.27" fill="#6e4e7f"/><rect x="901.18" y="1049.77" width="56.94" height="41.27" fill="#91749d"/><rect x="958.12" y="1049.77" width="56.94" height="41.27" fill="#a387ac"/><rect x="1015.06" y="1049.77" width="56.94" height="41.27" fill="#6e4e7f"/><rect x="217.89" y="1091.04" width="56.94" height="41.27" fill="#4b2962"/><rect x="274.83" y="1091.04" width="56.94" height="41.27" fill="#4b2962"/><rect x="331.77" y="1091.04" width="56.94" height="41.27" fill="#4b2962"/><rect x="388.71" y="1091.04" width="56.94" height="41.27" fill="#644377"/><rect x="445.65" y="1091.04" width="56.94" height="41.27" fill="#715282"/><rect x="502.59" y="1091.04" width="56.94" height="41.27" fill="#715282"/><rect x="559.53" y="1091.04" width="56.94" height="41.27" fill="#80628f"/><rect x="616.47" y="1091.04" width="56.94" height="41.27" fill="#9b7ea5"/><rect x="673.42" y="1091.04" width="56.94" height="41.27" fill="#9b7ea5"/><rect x="730.36" y="1091.04" width="56.94" height="41.27" fill="#9f82a8"/><rect x="787.3" y="1091.04" width="56.94" height="41.27" fill="#a386ab"/><rect x="844.24" y="1091.04" width="56.94" height="41.27" fill="#a68aaf"/><rect x="901.18" y="1091.04" width="56.94" height="41.27" fill="#ae92b5"/><rect x="958.12" y="1091.04" width="56.94" height="41.27" fill="#c9afcb"/><rect x="1015.06" y="1091.04" width="56.94" height="41.27" fill="#d8bfd8"/></g>
<path d="M274.83 884.68V1132.31M331.77 884.68V1132.31M388.71 884.68V1132.31M445.65 884.68V1132.31M502.59 884.68V1132.31M559.53 884.68V1132.31M616.47 884.68V1132.31M673.42 884.68V1132.31M730.36 884.68V1132.31M787.3 884.68V1132.31M844.24 884.68V1132.31M901.18 884.68V1132.31M958.12 884.68V1132.31M1015.06 884.68V1132.31" stroke="#fbeffd" stroke-opacity="1" stroke-width="1.7" fill="none"/>
<path d="M217.89 925.95H1072M217.89 967.22H1072M217.89 1008.49H1072M217.89 1049.77H1072M217.89 1091.04H1072" stroke="#fbeffd" stroke-opacity="1" stroke-width="1.7" fill="none"/>
<g font-size="18.65" text-anchor="middle"><text class="w" transform="matrix(1 0.0005 0 1.02 246.36 910.77)">0.99</text><text class="w" transform="matrix(1 0.0005 0 1.02 303.3 910.77)">0.98</text><text class="w" transform="matrix(1 0.0005 0 1.02 360.24 910.77)">0.99</text><text class="w" transform="matrix(1 0.0005 0 1.02 417.18 910.77)">0.98</text><text class="w" transform="matrix(1 0.0005 0 1.02 474.12 910.77)">0.98</text><text class="w" transform="matrix(1 0.0005 0 1.02 531.06 910.77)">0.97</text><text class="w" transform="matrix(1 0.0005 0 1.02 588 910.77)">0.97</text><text class="w" transform="matrix(1 0.0005 0 1.02 644.94 910.77)">0.98</text><text class="w" transform="matrix(1 0.0005 0 1.02 701.89 910.77)">0.97</text><text class="k" transform="matrix(1 0.0005 0 1.02 758.83 910.77)">0.95</text><text class="w" transform="matrix(1 0.0005 0 1.02 815.77 910.77)">0.97</text><text class="w" transform="matrix(1 0.0005 0 1.02 872.71 910.77)">0.98</text><text class="k" transform="matrix(1 0.0005 0 1.02 929.65 910.77)">0.95</text><text class="w" transform="matrix(1 0.0005 0 1.02 986.59 910.77)">0.98</text><text class="w" transform="matrix(1 0.0005 0 1.02 1043.53 910.77)">0.97</text><text class="w" transform="matrix(1 0.0005 0 1.02 246.36 952.04)">0.78</text><text class="w" transform="matrix(1 0.0005 0 1.02 303.3 952.04)">0.74</text><text class="w" transform="matrix(1 0.0005 0 1.02 360.24 952.04)">0.73</text><text class="w" transform="matrix(1 0.0005 0 1.02 417.18 952.04)">0.75</text><text class="w" transform="matrix(1 0.0005 0 1.02 474.12 952.04)">0.73</text><text class="w" transform="matrix(1 0.0005 0 1.02 531.06 952.04)">0.72</text><text class="w" transform="matrix(1 0.0005 0 1.02 588 952.04)">0.72</text><text class="w" transform="matrix(1 0.0005 0 1.02 644.94 952.04)">0.71</text><text class="w" transform="matrix(1 0.0005 0 1.02 701.89 952.04)">0.72</text><text class="w" transform="matrix(1 0.0005 0 1.02 758.83 952.04)">0.72</text><text class="w" transform="matrix(1 0.0005 0 1.02 815.77 952.04)">0.74</text><text class="w" transform="matrix(1 0.0005 0 1.02 872.71 952.04)">0.71</text><text class="w" transform="matrix(1 0.0005 0 1.02 929.65 952.04)">0.70</text><text class="w" transform="matrix(1 0.0005 0 1.02 986.59 952.04)">0.71</text><text class="k" transform="matrix(1 0.0005 0 1.02 1043.53 952.04)">0.68</text><text class="w" transform="matrix(1 0.0005 0 1.02 246.36 993.31)">0.71</text><text class="w" transform="matrix(1 0.0005 0 1.02 303.3 993.31)">0.76</text><text class="w" transform="matrix(1 0.0005 0 1.02 360.24 993.31)">0.77</text><text class="w" transform="matrix(1 0.0005 0 1.02 417.18 993.31)">0.70</text><text class="w" transform="matrix(1 0.0005 0 1.02 474.12 993.31)">0.71</text><text class="w" transform="matrix(1 0.0005 0 1.02 531.06 993.31)">0.72</text><text class="w" transform="matrix(1 0.0005 0 1.02 588 993.31)">0.71</text><text class="w" transform="matrix(1 0.0005 0 1.02 644.94 993.31)">0.69</text><text class="w" transform="matrix(1 0.0005 0 1.02 701.89 993.31)">0.70</text><text class="w" transform="matrix(1 0.0005 0 1.02 758.83 993.31)">0.70</text><text class="w" transform="matrix(1 0.0005 0 1.02 815.77 993.31)">0.71</text><text class="k" transform="matrix(1 0.0005 0 1.02 872.71 993.31)">0.66</text><text class="w" transform="matrix(1 0.0005 0 1.02 929.65 993.31)">0.71</text><text class="k" transform="matrix(1 0.0005 0 1.02 986.59 993.31)">0.66</text><text class="k" transform="matrix(1 0.0005 0 1.02 1043.53 993.31)">0.64</text><text class="w" transform="matrix(1 0.0005 0 1.02 246.36 1034.58)">0.73</text><text class="w" transform="matrix(1 0.0005 0 1.02 303.3 1034.58)">0.74</text><text class="w" transform="matrix(1 0.0005 0 1.02 360.24 1034.58)">0.75</text><text class="w" transform="matrix(1 0.0005 0 1.02 417.18 1034.58)">0.77</text><text class="w" transform="matrix(1 0.0005 0 1.02 474.12 1034.58)">0.74</text><text class="w" transform="matrix(1 0.0005 0 1.02 531.06 1034.58)">0.74</text><text class="w" transform="matrix(1 0.0005 0 1.02 588 1034.58)">0.71</text><text class="w" transform="matrix(1 0.0005 0 1.02 644.94 1034.58)">0.70</text><text class="w" transform="matrix(1 0.0005 0 1.02 701.89 1034.58)">0.62</text><text class="w" transform="matrix(1 0.0005 0 1.02 758.83 1034.58)">0.65</text><text class="k" transform="matrix(1 0.0005 0 1.02 815.77 1034.58)">0.58</text><text class="w" transform="matrix(1 0.0005 0 1.02 872.71 1034.58)">0.64</text><text class="w" transform="matrix(1 0.0005 0 1.02 929.65 1034.58)">0.63</text><text class="k" transform="matrix(1 0.0005 0 1.02 986.59 1034.58)">0.58</text><text class="k" transform="matrix(1 0.0005 0 1.02 1043.53 1034.58)">0.57</text><text class="w" transform="matrix(1 0.0005 0 1.02 246.36 1075.85)">0.58</text><text class="w" transform="matrix(1 0.0005 0 1.02 303.3 1075.85)">0.57</text><text class="w" transform="matrix(1 0.0005 0 1.02 360.24 1075.85)">0.55</text><text class="w" transform="matrix(1 0.0005 0 1.02 417.18 1075.85)">0.52</text><text class="w" transform="matrix(1 0.0005 0 1.02 474.12 1075.85)">0.53</text><text class="w" transform="matrix(1 0.0005 0 1.02 531.06 1075.85)">0.54</text><text class="w" transform="matrix(1 0.0005 0 1.02 588 1075.85)">0.54</text><text class="k" transform="matrix(1 0.0005 0 1.02 644.94 1075.85)">0.50</text><text class="w" transform="matrix(1 0.0005 0 1.02 701.89 1075.85)">0.57</text><text class="w" transform="matrix(1 0.0005 0 1.02 758.83 1075.85)">0.55</text><text class="w" transform="matrix(1 0.0005 0 1.02 815.77 1075.85)">0.56</text><text class="w" transform="matrix(1 0.0005 0 1.02 872.71 1075.85)">0.56</text><text class="w" transform="matrix(1 0.0005 0 1.02 929.65 1075.85)">0.54</text><text class="w" transform="matrix(1 0.0005 0 1.02 986.59 1075.85)">0.53</text><text class="w" transform="matrix(1 0.0005 0 1.02 1043.53 1075.85)">0.56</text><text class="w" transform="matrix(1 0.0005 0 1.02 246.36 1117.12)">0.76</text><text class="w" transform="matrix(1 0.0005 0 1.02 303.3 1117.12)">0.76</text><text class="w" transform="matrix(1 0.0005 0 1.02 360.24 1117.12)">0.76</text><text class="w" transform="matrix(1 0.0005 0 1.02 417.18 1117.12)">0.75</text><text class="w" transform="matrix(1 0.0005 0 1.02 474.12 1117.12)">0.74</text><text class="w" transform="matrix(1 0.0005 0 1.02 531.06 1117.12)">0.74</text><text class="w" transform="matrix(1 0.0005 0 1.02 588 1117.12)">0.73</text><text class="w" transform="matrix(1 0.0005 0 1.02 644.94 1117.12)">0.72</text><text class="w" transform="matrix(1 0.0005 0 1.02 701.89 1117.12)">0.72</text><text class="w" transform="matrix(1 0.0005 0 1.02 758.83 1117.12)">0.71</text><text class="w" transform="matrix(1 0.0005 0 1.02 815.77 1117.12)">0.71</text><text class="w" transform="matrix(1 0.0005 0 1.02 872.71 1117.12)">0.71</text><text class="w" transform="matrix(1 0.0005 0 1.02 929.65 1117.12)">0.71</text><text class="k" transform="matrix(1 0.0005 0 1.02 986.59 1117.12)">0.69</text><text class="k" transform="matrix(1 0.0005 0 1.02 1043.53 1117.12)">0.68</text></g>
<path d="M211.75 905.82H218.69M211.75 947.09H218.69M211.75 988.36H218.69M211.75 1029.63H218.69M211.75 1070.9H218.69M211.75 1112.17H218.69M246.36 1131.51V1138.95M303.3 1131.51V1138.95M360.24 1131.51V1138.95M417.18 1131.51V1138.95M474.12 1131.51V1138.95M531.06 1131.51V1138.95M588 1131.51V1138.95M644.94 1131.51V1138.95M701.89 1131.51V1138.95M758.83 1131.51V1138.95M815.77 1131.51V1138.95M872.71 1131.51V1138.95M929.65 1131.51V1138.95M986.59 1131.51V1138.95M1043.53 1131.51V1138.95" stroke="#000" stroke-width="1.75" fill="none"/>
<g font-size="18.96" text-anchor="end" fill="#000"><text transform="matrix(1 0.0005 0 1.02 204.62 910.67)">NSCLC Subtyping</text><text transform="matrix(1 0.0005 0 1.02 204.62 951.94)">CPTAC LUAD TP53</text><text transform="matrix(1 0.0005 0 1.02 204.62 993.21)">CPTAC LUAD EGFR</text><text transform="matrix(1 0.0005 0 1.02 204.62 1034.48)">CPTAC LUAD STK11</text><text transform="matrix(1 0.0005 0 1.02 204.62 1075.75)">CPTAC LUAD KRAS</text><text transform="matrix(1 0.0005 0 1.02 204.62 1117.02)">Average</text></g>
<g font-size="18.96" text-anchor="end" fill="#000"><text transform="translate(243.54 1156.07) rotate(-45)">CONCH</text><text transform="translate(300.49 1156.07) rotate(-45)">UNI</text><text transform="translate(357.43 1156.07) rotate(-45)">ProvGigaPath</text><text transform="translate(414.37 1156.07) rotate(-45)">Virchow2</text><text transform="translate(471.31 1156.07) rotate(-45)">H-optimus-0</text><text transform="translate(528.25 1156.07) rotate(-45)">DinoSSLPath</text><text transform="translate(585.19 1156.07) rotate(-45)">Kaiko</text><text transform="translate(642.13 1156.07) rotate(-45)">Virchow</text><text transform="translate(699.07 1156.07) rotate(-45)">Hibou-B</text><text transform="translate(756.01 1156.07) rotate(-45)">Panakeia*</text><text transform="translate(812.95 1156.07) rotate(-45)">Hibou-L</text><text transform="translate(869.89 1156.07) rotate(-45)">CTransPath</text><text transform="translate(926.83 1156.07) rotate(-45)">Phikon</text><text transform="translate(983.77 1156.07) rotate(-45)">BiomedCLIP</text><text transform="translate(1040.71 1156.07) rotate(-45)">PLIP</text></g>
<text transform="matrix(1 0.0005 0 1.03 546.3 845.8)" font-size="22.75" text-anchor="middle" fill="#000">AUROC Scores (Average) - NSCLC Tasks</text>
</g>
<g>
<clipPath id="cp-low"><rect x="230.61" y="1336.25" width="840.54" height="300.3"/></clipPath>
<g clip-path="url(#cp-low)"><rect x="229.76" y="1335.4" width="56.15" height="37.75" fill="#4b2962"/><rect x="285.91" y="1335.4" width="56.15" height="37.75" fill="#5e3d72"/><rect x="342.06" y="1335.4" width="56.15" height="37.75" fill="#4b2962"/><rect x="398.21" y="1335.4" width="56.15" height="37.75" fill="#67477a"/><rect x="454.36" y="1335.4" width="56.15" height="37.75" fill="#5e3d72"/><rect x="510.51" y="1335.4" width="56.15" height="37.75" fill="#715181"/><rect x="566.66" y="1335.4" width="56.15" height="37.75" fill="#715181"/><rect x="622.81" y="1335.4" width="56.15" height="37.75" fill="#54336a"/><rect x="678.95" y="1335.4" width="56.15" height="37.75" fill="#5e3d72"/><rect x="735.1" y="1335.4" width="56.15" height="37.75" fill="#9679a1"/><rect x="791.25" y="1335.4" width="56.15" height="37.75" fill="#9679a1"/><rect x="847.4" y="1335.4" width="56.15" height="37.75" fill="#67477a"/><rect x="903.55" y="1335.4" width="56.15" height="37.75" fill="#d8bfd8"/><rect x="959.7" y="1335.4" width="56.15" height="37.75" fill="#715181"/><rect x="1015.85" y="1335.4" width="56.15" height="37.75" fill="#8d6f99"/><rect x="229.76" y="1373.15" width="56.15" height="37.75" fill="#7b5c8a"/><rect x="285.91" y="1373.15" width="56.15" height="37.75" fill="#4b2962"/><rect x="342.06" y="1373.15" width="56.15" height="37.75" fill="#67477a"/><rect x="398.21" y="1373.15" width="56.15" height="37.75" fill="#836591"/><rect x="454.36" y="1373.15" width="56.15" height="37.75" fill="#715181"/><rect x="510.51" y="1373.15" width="56.15" height="37.75" fill="#54336a"/><rect x="566.66" y="1373.15" width="56.15" height="37.75" fill="#67477a"/><rect x="622.81" y="1373.15" width="56.15" height="37.75" fill="#67477a"/><rect x="678.95" y="1373.15" width="56.15" height="37.75" fill="#8d6f99"/><rect x="735.1" y="1373.15" width="56.15" height="37.75" fill="#8d6f99"/><rect x="791.25" y="1373.15" width="56.15" height="37.75" fill="#a083a9"/><rect x="847.4" y="1373.15" width="56.15" height="37.75" fill="#715181"/><rect x="903.55" y="1373.15" width="56.15" height="37.75" fill="#9679a1"/><rect x="959.7" y="1373.15" width="56.15" height="37.75" fill="#d8bfd8"/><rect x="1015.85" y="1373.15" width="56.15" height="37.75" fill="#d8bfd8"/><rect x="229.76" y="1410.9" width="56.15" height="37.75" fill="#4b2962"/><rect x="285.91" y="1410.9" width="56.15" height="37.75" fill="#977aa2"/><rect x="342.06" y="1410.9" width="56.15" height="37.75" fill="#8c6e98"/><rect x="398.21" y="1410.9" width="56.15" height="37.75" fill="#8c6e98"/><rect x="454.36" y="1410.9" width="56.15" height="37.75" fill="#56356b"/><rect x="510.51" y="1410.9" width="56.15" height="37.75" fill="#a285ab"/><rect x="566.66" y="1410.9" width="56.15" height="37.75" fill="#81638f"/><rect x="622.81" y="1410.9" width="56.15" height="37.75" fill="#977aa2"/><rect x="678.95" y="1410.9" width="56.15" height="37.75" fill="#977aa2"/><rect x="735.1" y="1410.9" width="56.15" height="37.75" fill="#81628f"/><rect x="791.25" y="1410.9" width="56.15" height="37.75" fill="#836591"/><rect x="847.4" y="1410.9" width="56.15" height="37.75" fill="#c2a8c6"/><rect x="903.55" y="1410.9" width="56.15" height="37.75" fill="#866894"/><rect x="959.7" y="1410.9" width="56.15" height="37.75" fill="#c2a8c6"/><rect x="1015.85" y="1410.9" width="56.15" height="37.75" fill="#d8bfd8"/><rect x="229.76" y="1448.65" width="56.15" height="37.75" fill="#4b2962"/><rect x="285.91" y="1448.65" width="56.15" height="37.75" fill="#57366c"/><rect x="342.06" y="1448.65" width="56.15" height="37.75" fill="#6e4f80"/><rect x="398.21" y="1448.65" width="56.15" height="37.75" fill="#6e4f80"/><rect x="454.36" y="1448.65" width="56.15" height="37.75" fill="#91749d"/><rect x="510.51" y="1448.65" width="56.15" height="37.75" fill="#866893"/><rect x="566.66" y="1448.65" width="56.15" height="37.75" fill="#b599ba"/><rect x="622.81" y="1448.65" width="56.15" height="37.75" fill="#9d80a7"/><rect x="678.95" y="1448.65" width="56.15" height="37.75" fill="#6e4f80"/><rect x="735.1" y="1448.65" width="56.15" height="37.75" fill="#6e4f80"/><rect x="791.25" y="1448.65" width="56.15" height="37.75" fill="#bba0bf"/><rect x="847.4" y="1448.65" width="56.15" height="37.75" fill="#ccb2ce"/><rect x="903.55" y="1448.65" width="56.15" height="37.75" fill="#c0a6c4"/><rect x="959.7" y="1448.65" width="56.15" height="37.75" fill="#d8bfd8"/><rect x="1015.85" y="1448.65" width="56.15" height="37.75" fill="#9d80a7"/><rect x="229.76" y="1486.4" width="56.15" height="37.75" fill="#59386e"/><rect x="285.91" y="1486.4" width="56.15" height="37.75" fill="#4b2962"/><rect x="342.06" y="1486.4" width="56.15" height="37.75" fill="#67477a"/><rect x="398.21" y="1486.4" width="56.15" height="37.75" fill="#604074"/><rect x="454.36" y="1486.4" width="56.15" height="37.75" fill="#604074"/><rect x="510.51" y="1486.4" width="56.15" height="37.75" fill="#7c5e8b"/><rect x="566.66" y="1486.4" width="56.15" height="37.75" fill="#604074"/><rect x="622.81" y="1486.4" width="56.15" height="37.75" fill="#a083a9"/><rect x="678.95" y="1486.4" width="56.15" height="37.75" fill="#b59aba"/><rect x="735.1" y="1486.4" width="56.15" height="37.75" fill="#d1b8d2"/><rect x="791.25" y="1486.4" width="56.15" height="37.75" fill="#ae92b5"/><rect x="847.4" y="1486.4" width="56.15" height="37.75" fill="#a78aaf"/><rect x="903.55" y="1486.4" width="56.15" height="37.75" fill="#755685"/><rect x="959.7" y="1486.4" width="56.15" height="37.75" fill="#d1b8d2"/><rect x="1015.85" y="1486.4" width="56.15" height="37.75" fill="#d8bfd8"/><rect x="229.76" y="1524.15" width="56.15" height="37.75" fill="#55346a"/><rect x="285.91" y="1524.15" width="56.15" height="37.75" fill="#4b2962"/><rect x="342.06" y="1524.15" width="56.15" height="37.75" fill="#69497b"/><rect x="398.21" y="1524.15" width="56.15" height="37.75" fill="#735484"/><rect x="454.36" y="1524.15" width="56.15" height="37.75" fill="#92749d"/><rect x="510.51" y="1524.15" width="56.15" height="37.75" fill="#5f3e73"/><rect x="566.66" y="1524.15" width="56.15" height="37.75" fill="#7d5f8c"/><rect x="622.81" y="1524.15" width="56.15" height="37.75" fill="#7d5f8c"/><rect x="678.95" y="1524.15" width="56.15" height="37.75" fill="#92749d"/><rect x="735.1" y="1524.15" width="56.15" height="37.75" fill="#876995"/><rect x="791.25" y="1524.15" width="56.15" height="37.75" fill="#b094b6"/><rect x="847.4" y="1524.15" width="56.15" height="37.75" fill="#92749d"/><rect x="903.55" y="1524.15" width="56.15" height="37.75" fill="#92749d"/><rect x="959.7" y="1524.15" width="56.15" height="37.75" fill="#ba9fbf"/><rect x="1015.85" y="1524.15" width="56.15" height="37.75" fill="#d8bfd8"/><rect x="229.76" y="1561.9" width="56.15" height="37.75" fill="#91749d"/><rect x="285.91" y="1561.9" width="56.15" height="37.75" fill="#91749d"/><rect x="342.06" y="1561.9" width="56.15" height="37.75" fill="#866793"/><rect x="398.21" y="1561.9" width="56.15" height="37.75" fill="#866793"/><rect x="454.36" y="1561.9" width="56.15" height="37.75" fill="#b599ba"/><rect x="510.51" y="1561.9" width="56.15" height="37.75" fill="#a98db1"/><rect x="566.66" y="1561.9" width="56.15" height="37.75" fill="#a98db1"/><rect x="622.81" y="1561.9" width="56.15" height="37.75" fill="#91749d"/><rect x="678.95" y="1561.9" width="56.15" height="37.75" fill="#d8bfd8"/><rect x="735.1" y="1561.9" width="56.15" height="37.75" fill="#91749d"/><rect x="791.25" y="1561.9" width="56.15" height="37.75" fill="#4b2962"/><rect x="847.4" y="1561.9" width="56.15" height="37.75" fill="#a98db1"/><rect x="903.55" y="1561.9" width="56.15" height="37.75" fill="#9d80a7"/><rect x="959.7" y="1561.9" width="56.15" height="37.75" fill="#bba0bf"/><rect x="1015.85" y="1561.9" width="56.15" height="37.75" fill="#ccb2ce"/><rect x="229.76" y="1599.65" width="56.15" height="37.75" fill="#4b2962"/><rect x="285.91" y="1599.65" width="56.15" height="37.75" fill="#523068"/><rect x="342.06" y="1599.65" width="56.15" height="37.75" fill="#603f74"/><rect x="398.21" y="1599.65" width="56.15" height="37.75" fill="#6b4b7d"/><rect x="454.36" y="1599.65" width="56.15" height="37.75" fill="#6f5080"/><rect x="510.51" y="1599.65" width="56.15" height="37.75" fill="#755685"/><rect x="566.66" y="1599.65" width="56.15" height="37.75" fill="#7a5b89"/><rect x="622.81" y="1599.65" width="56.15" height="37.75" fill="#80628f"/><rect x="678.95" y="1599.65" width="56.15" height="37.75" fill="#977aa2"/><rect x="735.1" y="1599.65" width="56.15" height="37.75" fill="#9b7ea5"/><rect x="791.25" y="1599.65" width="56.15" height="37.75" fill="#9f82a8"/><rect x="847.4" y="1599.65" width="56.15" height="37.75" fill="#9f82a8"/><rect x="903.55" y="1599.65" width="56.15" height="37.75" fill="#a386ab"/><rect x="959.7" y="1599.65" width="56.15" height="37.75" fill="#ceb5d0"/><rect x="1015.85" y="1599.65" width="56.15" height="37.75" fill="#d8bfd8"/></g>
<path d="M285.91 1335.4V1637.4M342.06 1335.4V1637.4M398.21 1335.4V1637.4M454.36 1335.4V1637.4M510.51 1335.4V1637.4M566.66 1335.4V1637.4M622.81 1335.4V1637.4M678.95 1335.4V1637.4M735.1 1335.4V1637.4M791.25 1335.4V1637.4M847.4 1335.4V1637.4M903.55 1335.4V1637.4M959.7 1335.4V1637.4M1015.85 1335.4V1637.4" stroke="#fbeffd" stroke-opacity="1" stroke-width="1.7" fill="none"/>
<path d="M229.76 1373.15H1072M229.76 1410.9H1072M229.76 1448.65H1072M229.76 1486.4H1072M229.76 1524.15H1072M229.76 1561.9H1072M229.76 1599.65H1072" stroke="#fbeffd" stroke-opacity="1" stroke-width="1.7" fill="none"/>
<g font-size="18.65" text-anchor="middle"><text class="w" transform="matrix(1 0.0005 0 1.02 257.83 1359.73)">0.88</text><text class="w" transform="matrix(1 0.0005 0 1.02 313.98 1359.73)">0.86</text><text class="w" transform="matrix(1 0.0005 0 1.02 370.13 1359.73)">0.88</text><text class="w" transform="matrix(1 0.0005 0 1.02 426.28 1359.73)">0.85</text><text class="w" transform="matrix(1 0.0005 0 1.02 482.43 1359.73)">0.86</text><text class="w" transform="matrix(1 0.0005 0 1.02 538.58 1359.73)">0.84</text><text class="w" transform="matrix(1 0.0005 0 1.02 594.73 1359.73)">0.84</text><text class="w" transform="matrix(1 0.0005 0 1.02 650.88 1359.73)">0.87</text><text class="w" transform="matrix(1 0.0005 0 1.02 707.03 1359.73)">0.86</text><text class="w" transform="matrix(1 0.0005 0 1.02 763.18 1359.73)">0.80</text><text class="w" transform="matrix(1 0.0005 0 1.02 819.33 1359.73)">0.80</text><text class="w" transform="matrix(1 0.0005 0 1.02 875.48 1359.73)">0.85</text><text class="k" transform="matrix(1 0.0005 0 1.02 931.63 1359.73)">0.73</text><text class="w" transform="matrix(1 0.0005 0 1.02 987.78 1359.73)">0.84</text><text class="w" transform="matrix(1 0.0005 0 1.02 1043.93 1359.73)">0.81</text><text class="w" transform="matrix(1 0.0005 0 1.02 257.83 1397.48)">0.82</text><text class="w" transform="matrix(1 0.0005 0 1.02 313.98 1397.48)">0.86</text><text class="w" transform="matrix(1 0.0005 0 1.02 370.13 1397.48)">0.83</text><text class="w" transform="matrix(1 0.0005 0 1.02 426.28 1397.48)">0.80</text><text class="w" transform="matrix(1 0.0005 0 1.02 482.43 1397.48)">0.82</text><text class="w" transform="matrix(1 0.0005 0 1.02 538.58 1397.48)">0.85</text><text class="w" transform="matrix(1 0.0005 0 1.02 594.73 1397.48)">0.83</text><text class="w" transform="matrix(1 0.0005 0 1.02 650.88 1397.48)">0.83</text><text class="w" transform="matrix(1 0.0005 0 1.02 707.03 1397.48)">0.79</text><text class="w" transform="matrix(1 0.0005 0 1.02 763.18 1397.48)">0.79</text><text class="w" transform="matrix(1 0.0005 0 1.02 819.33 1397.48)">0.77</text><text class="w" transform="matrix(1 0.0005 0 1.02 875.48 1397.48)">0.82</text><text class="w" transform="matrix(1 0.0005 0 1.02 931.63 1397.48)">0.78</text><text class="k" transform="matrix(1 0.0005 0 1.02 987.78 1397.48)">0.71</text><text class="k" transform="matrix(1 0.0005 0 1.02 1043.93 1397.48)">0.71</text><text class="w" transform="matrix(1 0.0005 0 1.02 257.83 1435.23)">0.77</text><text class="w" transform="matrix(1 0.0005 0 1.02 313.98 1435.23)">0.70</text><text class="w" transform="matrix(1 0.0005 0 1.02 370.13 1435.23)">0.71</text><text class="w" transform="matrix(1 0.0005 0 1.02 426.28 1435.23)">0.71</text><text class="w" transform="matrix(1 0.0005 0 1.02 482.43 1435.23)">0.76</text><text class="w" transform="matrix(1 0.0005 0 1.02 538.58 1435.23)">0.69</text><text class="w" transform="matrix(1 0.0005 0 1.02 594.73 1435.23)">0.72</text><text class="w" transform="matrix(1 0.0005 0 1.02 650.88 1435.23)">0.70</text><text class="w" transform="matrix(1 0.0005 0 1.02 707.03 1435.23)">0.70</text><text class="w" transform="matrix(1 0.0005 0 1.02 763.18 1435.23)">0.71</text><text class="w" transform="matrix(1 0.0005 0 1.02 819.33 1435.23)">0.71</text><text class="k" transform="matrix(1 0.0005 0 1.02 875.48 1435.23)">0.66</text><text class="w" transform="matrix(1 0.0005 0 1.02 931.63 1435.23)">0.71</text><text class="k" transform="matrix(1 0.0005 0 1.02 987.78 1435.23)">0.66</text><text class="k" transform="matrix(1 0.0005 0 1.02 1043.93 1435.23)">0.64</text><text class="w" transform="matrix(1 0.0005 0 1.02 257.83 1472.98)">0.74</text><text class="w" transform="matrix(1 0.0005 0 1.02 313.98 1472.98)">0.73</text><text class="w" transform="matrix(1 0.0005 0 1.02 370.13 1472.98)">0.71</text><text class="w" transform="matrix(1 0.0005 0 1.02 426.28 1472.98)">0.71</text><text class="w" transform="matrix(1 0.0005 0 1.02 482.43 1472.98)">0.68</text><text class="w" transform="matrix(1 0.0005 0 1.02 538.58 1472.98)">0.69</text><text class="w" transform="matrix(1 0.0005 0 1.02 594.73 1472.98)">0.65</text><text class="w" transform="matrix(1 0.0005 0 1.02 650.88 1472.98)">0.67</text><text class="w" transform="matrix(1 0.0005 0 1.02 707.03 1472.98)">0.71</text><text class="w" transform="matrix(1 0.0005 0 1.02 763.18 1472.98)">0.71</text><text class="w" transform="matrix(1 0.0005 0 1.02 819.33 1472.98)">0.64</text><text class="k" transform="matrix(1 0.0005 0 1.02 875.48 1472.98)">0.63</text><text class="k" transform="matrix(1 0.0005 0 1.02 931.63 1472.98)">0.64</text><text class="k" transform="matrix(1 0.0005 0 1.02 987.78 1472.98)">0.62</text><text class="w" transform="matrix(1 0.0005 0 1.02 1043.93 1472.98)">0.67</text><text class="w" transform="matrix(1 0.0005 0 1.02 257.83 1510.73)">0.75</text><text class="w" transform="matrix(1 0.0005 0 1.02 313.98 1510.73)">0.77</text><text class="w" transform="matrix(1 0.0005 0 1.02 370.13 1510.73)">0.73</text><text class="w" transform="matrix(1 0.0005 0 1.02 426.28 1510.73)">0.74</text><text class="w" transform="matrix(1 0.0005 0 1.02 482.43 1510.73)">0.74</text><text class="w" transform="matrix(1 0.0005 0 1.02 538.58 1510.73)">0.70</text><text class="w" transform="matrix(1 0.0005 0 1.02 594.73 1510.73)">0.74</text><text class="w" transform="matrix(1 0.0005 0 1.02 650.88 1510.73)">0.65</text><text class="w" transform="matrix(1 0.0005 0 1.02 707.03 1510.73)">0.62</text><text class="k" transform="matrix(1 0.0005 0 1.02 763.18 1510.73)">0.58</text><text class="w" transform="matrix(1 0.0005 0 1.02 819.33 1510.73)">0.63</text><text class="w" transform="matrix(1 0.0005 0 1.02 875.48 1510.73)">0.64</text><text class="w" transform="matrix(1 0.0005 0 1.02 931.63 1510.73)">0.71</text><text class="k" transform="matrix(1 0.0005 0 1.02 987.78 1510.73)">0.58</text><text class="k" transform="matrix(1 0.0005 0 1.02 1043.93 1510.73)">0.57</text><text class="w" transform="matrix(1 0.0005 0 1.02 257.83 1548.48)">0.69</text><text class="w" transform="matrix(1 0.0005 0 1.02 313.98 1548.48)">0.70</text><text class="w" transform="matrix(1 0.0005 0 1.02 370.13 1548.48)">0.67</text><text class="w" transform="matrix(1 0.0005 0 1.02 426.28 1548.48)">0.66</text><text class="w" transform="matrix(1 0.0005 0 1.02 482.43 1548.48)">0.63</text><text class="w" transform="matrix(1 0.0005 0 1.02 538.58 1548.48)">0.68</text><text class="w" transform="matrix(1 0.0005 0 1.02 594.73 1548.48)">0.65</text><text class="w" transform="matrix(1 0.0005 0 1.02 650.88 1548.48)">0.65</text><text class="w" transform="matrix(1 0.0005 0 1.02 707.03 1548.48)">0.63</text><text class="w" transform="matrix(1 0.0005 0 1.02 763.18 1548.48)">0.64</text><text class="w" transform="matrix(1 0.0005 0 1.02 819.33 1548.48)">0.60</text><text class="w" transform="matrix(1 0.0005 0 1.02 875.48 1548.48)">0.63</text><text class="w" transform="matrix(1 0.0005 0 1.02 931.63 1548.48)">0.63</text><text class="w" transform="matrix(1 0.0005 0 1.02 987.78 1548.48)">0.59</text><text class="k" transform="matrix(1 0.0005 0 1.02 1043.93 1548.48)">0.56</text><text class="w" transform="matrix(1 0.0005 0 1.02 257.83 1586.23)">0.53</text><text class="w" transform="matrix(1 0.0005 0 1.02 313.98 1586.23)">0.53</text><text class="w" transform="matrix(1 0.0005 0 1.02 370.13 1586.23)">0.54</text><text class="w" transform="matrix(1 0.0005 0 1.02 426.28 1586.23)">0.54</text><text class="w" transform="matrix(1 0.0005 0 1.02 482.43 1586.23)">0.50</text><text class="w" transform="matrix(1 0.0005 0 1.02 538.58 1586.23)">0.51</text><text class="w" transform="matrix(1 0.0005 0 1.02 594.73 1586.23)">0.51</text><text class="w" transform="matrix(1 0.0005 0 1.02 650.88 1586.23)">0.53</text><text class="k" transform="matrix(1 0.0005 0 1.02 707.03 1586.23)">0.47</text><text class="w" transform="matrix(1 0.0005 0 1.02 763.18 1586.23)">0.53</text><text class="w" transform="matrix(1 0.0005 0 1.02 819.33 1586.23)">0.59</text><text class="w" transform="matrix(1 0.0005 0 1.02 875.48 1586.23)">0.51</text><text class="w" transform="matrix(1 0.0005 0 1.02 931.63 1586.23)">0.52</text><text class="w" transform="matrix(1 0.0005 0 1.02 987.78 1586.23)">0.49</text><text class="k" transform="matrix(1 0.0005 0 1.02 1043.93 1586.23)">0.48</text><text class="w" transform="matrix(1 0.0005 0 1.02 257.83 1623.98)">0.74</text><text class="w" transform="matrix(1 0.0005 0 1.02 313.98 1623.98)">0.73</text><text class="w" transform="matrix(1 0.0005 0 1.02 370.13 1623.98)">0.72</text><text class="w" transform="matrix(1 0.0005 0 1.02 426.28 1623.98)">0.72</text><text class="w" transform="matrix(1 0.0005 0 1.02 482.43 1623.98)">0.71</text><text class="w" transform="matrix(1 0.0005 0 1.02 538.58 1623.98)">0.71</text><text class="w" transform="matrix(1 0.0005 0 1.02 594.73 1623.98)">0.70</text><text class="w" transform="matrix(1 0.0005 0 1.02 650.88 1623.98)">0.70</text><text class="w" transform="matrix(1 0.0005 0 1.02 707.03 1623.98)">0.68</text><text class="w" transform="matrix(1 0.0005 0 1.02 763.18 1623.98)">0.68</text><text class="w" transform="matrix(1 0.0005 0 1.02 819.33 1623.98)">0.68</text><text class="w" transform="matrix(1 0.0005 0 1.02 875.48 1623.98)">0.68</text><text class="w" transform="matrix(1 0.0005 0 1.02 931.63 1623.98)">0.67</text><text class="k" transform="matrix(1 0.0005 0 1.02 987.78 1623.98)">0.64</text><text class="k" transform="matrix(1 0.0005 0 1.02 1043.93 1623.98)">0.63</text></g>
<path d="M223.62 1354.78H230.56M223.62 1392.53H230.56M223.62 1430.28H230.56M223.62 1468.03H230.56M223.62 1505.78H230.56M223.62 1543.53H230.56M223.62 1581.28H230.56M223.62 1619.03H230.56M257.83 1636.6V1644.04M313.98 1636.6V1644.04M370.13 1636.6V1644.04M426.28 1636.6V1644.04M482.43 1636.6V1644.04M538.58 1636.6V1644.04M594.73 1636.6V1644.04M650.88 1636.6V1644.04M707.03 1636.6V1644.04M763.18 1636.6V1644.04M819.33 1636.6V1644.04M875.48 1636.6V1644.04M931.63 1636.6V1644.04M987.78 1636.6V1644.04M1043.93 1636.6V1644.04" stroke="#000" stroke-width="1.75" fill="none"/>
<g font-size="18.96" text-anchor="end" fill="#000"><text transform="matrix(1 0.0005 0 1.02 216.49 1359.62)">KIEL STAD EBV</text><text transform="matrix(1 0.0005 0 1.02 216.49 1397.38)">DACHS CRC MSI</text><text transform="matrix(1 0.0005 0 1.02 216.49 1435.12)">CPTAC LUAD EGFR</text><text transform="matrix(1 0.0005 0 1.02 216.49 1472.88)">DACHS CRC BRAF</text><text transform="matrix(1 0.0005 0 1.02 216.49 1510.62)">CPTAC LUAD STK11</text><text transform="matrix(1 0.0005 0 1.02 216.49 1548.38)">DACHS CRC CIMP</text><text transform="matrix(1 0.0005 0 1.02 216.49 1586.12)">KIEL STAD M-STATUS</text><text transform="matrix(1 0.0005 0 1.02 216.49 1623.88)">Average</text></g>
<g font-size="18.96" text-anchor="end" fill="#000"><text transform="translate(255.02 1661.16) rotate(-45)">ProvGigaPath</text><text transform="translate(311.17 1661.16) rotate(-45)">Virchow2</text><text transform="translate(367.32 1661.16) rotate(-45)">CONCH</text><text transform="translate(423.47 1661.16) rotate(-45)">H-optimus-0</text><text transform="translate(479.62 1661.16) rotate(-45)">UNI</text><text transform="translate(535.77 1661.16) rotate(-45)">Virchow</text><text transform="translate(591.92 1661.16) rotate(-45)">DinoSSLPath</text><text transform="translate(648.06 1661.16) rotate(-45)">Panakeia*</text><text transform="translate(704.21 1661.16) rotate(-45)">Hibou-B</text><text transform="translate(760.36 1661.16) rotate(-45)">Hibou-L</text><text transform="translate(816.51 1661.16) rotate(-45)">Phikon</text><text transform="translate(872.66 1661.16) rotate(-45)">CTransPath</text><text transform="translate(928.81 1661.16) rotate(-45)">Kaiko</text><text transform="translate(984.96 1661.16) rotate(-45)">BiomedCLIP</text><text transform="translate(1041.11 1661.16) rotate(-45)">PLIP</text></g>
<text transform="matrix(1 0.0005 0 1.03 546.6 1297)" font-size="22.75" text-anchor="middle" fill="#000">AUROC Scores (Average) - Low-Prevalence Tasks</text>
</g>
<g>
<clipPath id="cp-stad"><rect x="1332.14" y="174.34" width="831.21" height="341.74"/></clipPath>
<g clip-path="url(#cp-stad)"><rect x="1331.29" y="173.49" width="55.53" height="38.16" fill="#4b2962"/><rect x="1386.82" y="173.49" width="55.53" height="38.16" fill="#5e3d72"/><rect x="1442.34" y="173.49" width="55.53" height="38.16" fill="#4b2962"/><rect x="1497.87" y="173.49" width="55.53" height="38.16" fill="#715181"/><rect x="1553.4" y="173.49" width="55.53" height="38.16" fill="#715181"/><rect x="1608.93" y="173.49" width="55.53" height="38.16" fill="#54336a"/><rect x="1664.45" y="173.49" width="55.53" height="38.16" fill="#67477a"/><rect x="1719.98" y="173.49" width="55.53" height="38.16" fill="#55346a"/><rect x="1775.51" y="173.49" width="55.53" height="38.16" fill="#9679a1"/><rect x="1831.04" y="173.49" width="55.53" height="38.16" fill="#5e3d72"/><rect x="1886.56" y="173.49" width="55.53" height="38.16" fill="#715181"/><rect x="1942.09" y="173.49" width="55.53" height="38.16" fill="#67477a"/><rect x="1997.62" y="173.49" width="55.53" height="38.16" fill="#d8bfd8"/><rect x="2053.15" y="173.49" width="55.53" height="38.16" fill="#9679a1"/><rect x="2108.67" y="173.49" width="55.53" height="38.16" fill="#8d6f99"/><rect x="1331.29" y="211.65" width="55.53" height="38.16" fill="#58376d"/><rect x="1386.82" y="211.65" width="55.53" height="38.16" fill="#654477"/><rect x="1442.34" y="211.65" width="55.53" height="38.16" fill="#cbb1cd"/><rect x="1497.87" y="211.65" width="55.53" height="38.16" fill="#4b2962"/><rect x="1553.4" y="211.65" width="55.53" height="38.16" fill="#4f2e66"/><rect x="1608.93" y="211.65" width="55.53" height="38.16" fill="#654477"/><rect x="1664.45" y="211.65" width="55.53" height="38.16" fill="#987ba2"/><rect x="1719.98" y="211.65" width="55.53" height="38.16" fill="#a588ad"/><rect x="1775.51" y="211.65" width="55.53" height="38.16" fill="#cbb1cd"/><rect x="1831.04" y="211.65" width="55.53" height="38.16" fill="#a588ad"/><rect x="1886.56" y="211.65" width="55.53" height="38.16" fill="#7e608d"/><rect x="1942.09" y="211.65" width="55.53" height="38.16" fill="#7e608d"/><rect x="1997.62" y="211.65" width="55.53" height="38.16" fill="#d8bfd8"/><rect x="2053.15" y="211.65" width="55.53" height="38.16" fill="#cbb1cd"/><rect x="2108.67" y="211.65" width="55.53" height="38.16" fill="#d8bfd8"/><rect x="1331.29" y="249.81" width="55.53" height="38.16" fill="#785887"/><rect x="1386.82" y="249.81" width="55.53" height="38.16" fill="#4b2962"/><rect x="1442.34" y="249.81" width="55.53" height="38.16" fill="#523168"/><rect x="1497.87" y="249.81" width="55.53" height="38.16" fill="#9d80a6"/><rect x="1553.4" y="249.81" width="55.53" height="38.16" fill="#866894"/><rect x="1608.93" y="249.81" width="55.53" height="38.16" fill="#8e709a"/><rect x="1664.45" y="249.81" width="55.53" height="38.16" fill="#705081"/><rect x="1719.98" y="249.81" width="55.53" height="38.16" fill="#866894"/><rect x="1775.51" y="249.81" width="55.53" height="38.16" fill="#785887"/><rect x="1831.04" y="249.81" width="55.53" height="38.16" fill="#866894"/><rect x="1886.56" y="249.81" width="55.53" height="38.16" fill="#9d80a6"/><rect x="1942.09" y="249.81" width="55.53" height="38.16" fill="#8e709a"/><rect x="1997.62" y="249.81" width="55.53" height="38.16" fill="#614175"/><rect x="2053.15" y="249.81" width="55.53" height="38.16" fill="#9578a0"/><rect x="2108.67" y="249.81" width="55.53" height="38.16" fill="#d8bfd8"/><rect x="1331.29" y="287.97" width="55.53" height="38.16" fill="#866894"/><rect x="1386.82" y="287.97" width="55.53" height="38.16" fill="#4b2962"/><rect x="1442.34" y="287.97" width="55.53" height="38.16" fill="#614175"/><rect x="1497.87" y="287.97" width="55.53" height="38.16" fill="#ab90b3"/><rect x="1553.4" y="287.97" width="55.53" height="38.16" fill="#9578a0"/><rect x="1608.93" y="287.97" width="55.53" height="38.16" fill="#7f608d"/><rect x="1664.45" y="287.97" width="55.53" height="38.16" fill="#7f608d"/><rect x="1719.98" y="287.97" width="55.53" height="38.16" fill="#9578a0"/><rect x="1775.51" y="287.97" width="55.53" height="38.16" fill="#866894"/><rect x="1831.04" y="287.97" width="55.53" height="38.16" fill="#7f608d"/><rect x="1886.56" y="287.97" width="55.53" height="38.16" fill="#ba9fbf"/><rect x="1942.09" y="287.97" width="55.53" height="38.16" fill="#a488ad"/><rect x="1997.62" y="287.97" width="55.53" height="38.16" fill="#705081"/><rect x="2053.15" y="287.97" width="55.53" height="38.16" fill="#a488ad"/><rect x="2108.67" y="287.97" width="55.53" height="38.16" fill="#d8bfd8"/><rect x="1331.29" y="326.13" width="55.53" height="38.16" fill="#5b3a6f"/><rect x="1386.82" y="326.13" width="55.53" height="38.16" fill="#4b2962"/><rect x="1442.34" y="326.13" width="55.53" height="38.16" fill="#d8bfd8"/><rect x="1497.87" y="326.13" width="55.53" height="38.16" fill="#6a4a7c"/><rect x="1553.4" y="326.13" width="55.53" height="38.16" fill="#997ca4"/><rect x="1608.93" y="326.13" width="55.53" height="38.16" fill="#c0a6c4"/><rect x="1664.45" y="326.13" width="55.53" height="38.16" fill="#997ca4"/><rect x="1719.98" y="326.13" width="55.53" height="38.16" fill="#a98db1"/><rect x="1775.51" y="326.13" width="55.53" height="38.16" fill="#523068"/><rect x="1831.04" y="326.13" width="55.53" height="38.16" fill="#997ca4"/><rect x="1886.56" y="326.13" width="55.53" height="38.16" fill="#997ca4"/><rect x="1942.09" y="326.13" width="55.53" height="38.16" fill="#c0a6c4"/><rect x="1997.62" y="326.13" width="55.53" height="38.16" fill="#997ca4"/><rect x="2053.15" y="326.13" width="55.53" height="38.16" fill="#c8aecb"/><rect x="2108.67" y="326.13" width="55.53" height="38.16" fill="#c0a6c4"/><rect x="1331.29" y="364.29" width="55.53" height="38.16" fill="#80618e"/><rect x="1386.82" y="364.29" width="55.53" height="38.16" fill="#92749d"/><rect x="1442.34" y="364.29" width="55.53" height="38.16" fill="#4b2962"/><rect x="1497.87" y="364.29" width="55.53" height="38.16" fill="#80618e"/><rect x="1553.4" y="364.29" width="55.53" height="38.16" fill="#b59aba"/><rect x="1608.93" y="364.29" width="55.53" height="38.16" fill="#a387ac"/><rect x="1664.45" y="364.29" width="55.53" height="38.16" fill="#d8bfd8"/><rect x="1719.98" y="364.29" width="55.53" height="38.16" fill="#80618e"/><rect x="1775.51" y="364.29" width="55.53" height="38.16" fill="#bba0bf"/><rect x="1831.04" y="364.29" width="55.53" height="38.16" fill="#785988"/><rect x="1886.56" y="364.29" width="55.53" height="38.16" fill="#785988"/><rect x="1942.09" y="364.29" width="55.53" height="38.16" fill="#785988"/><rect x="1997.62" y="364.29" width="55.53" height="38.16" fill="#9d80a6"/><rect x="2053.15" y="364.29" width="55.53" height="38.16" fill="#a387ac"/><rect x="2108.67" y="364.29" width="55.53" height="38.16" fill="#80618e"/><rect x="1331.29" y="402.45" width="55.53" height="38.16" fill="#4b2962"/><rect x="1386.82" y="402.45" width="55.53" height="38.16" fill="#987ba2"/><rect x="1442.34" y="402.45" width="55.53" height="38.16" fill="#d8bfd8"/><rect x="1497.87" y="402.45" width="55.53" height="38.16" fill="#856692"/><rect x="1553.4" y="402.45" width="55.53" height="38.16" fill="#92749d"/><rect x="1608.93" y="402.45" width="55.53" height="38.16" fill="#b296b8"/><rect x="1664.45" y="402.45" width="55.53" height="38.16" fill="#ab8fb2"/><rect x="1719.98" y="402.45" width="55.53" height="38.16" fill="#ab8fb2"/><rect x="1775.51" y="402.45" width="55.53" height="38.16" fill="#a588ad"/><rect x="1831.04" y="402.45" width="55.53" height="38.16" fill="#b296b8"/><rect x="1886.56" y="402.45" width="55.53" height="38.16" fill="#8b6d98"/><rect x="1942.09" y="402.45" width="55.53" height="38.16" fill="#b296b8"/><rect x="1997.62" y="402.45" width="55.53" height="38.16" fill="#a588ad"/><rect x="2053.15" y="402.45" width="55.53" height="38.16" fill="#ab8fb2"/><rect x="2108.67" y="402.45" width="55.53" height="38.16" fill="#9e82a8"/><rect x="1331.29" y="440.61" width="55.53" height="38.16" fill="#866793"/><rect x="1386.82" y="440.61" width="55.53" height="38.16" fill="#91749d"/><rect x="1442.34" y="440.61" width="55.53" height="38.16" fill="#91749d"/><rect x="1497.87" y="440.61" width="55.53" height="38.16" fill="#a98db1"/><rect x="1553.4" y="440.61" width="55.53" height="38.16" fill="#a98db1"/><rect x="1608.93" y="440.61" width="55.53" height="38.16" fill="#91749d"/><rect x="1664.45" y="440.61" width="55.53" height="38.16" fill="#866793"/><rect x="1719.98" y="440.61" width="55.53" height="38.16" fill="#b599ba"/><rect x="1775.51" y="440.61" width="55.53" height="38.16" fill="#91749d"/><rect x="1831.04" y="440.61" width="55.53" height="38.16" fill="#d8bfd8"/><rect x="1886.56" y="440.61" width="55.53" height="38.16" fill="#bba0bf"/><rect x="1942.09" y="440.61" width="55.53" height="38.16" fill="#a98db1"/><rect x="1997.62" y="440.61" width="55.53" height="38.16" fill="#9d80a7"/><rect x="2053.15" y="440.61" width="55.53" height="38.16" fill="#4b2962"/><rect x="2108.67" y="440.61" width="55.53" height="38.16" fill="#ccb2ce"/><rect x="1331.29" y="478.77" width="55.53" height="38.16" fill="#4b2962"/><rect x="1386.82" y="478.77" width="55.53" height="38.16" fill="#4f2e66"/><rect x="1442.34" y="478.77" width="55.53" height="38.16" fill="#856692"/><rect x="1497.87" y="478.77" width="55.53" height="38.16" fill="#876994"/><rect x="1553.4" y="478.77" width="55.53" height="38.16" fill="#896b96"/><rect x="1608.93" y="478.77" width="55.53" height="38.16" fill="#896b96"/><rect x="1664.45" y="478.77" width="55.53" height="38.16" fill="#8b6d98"/><rect x="1719.98" y="478.77" width="55.53" height="38.16" fill="#987ba2"/><rect x="1775.51" y="478.77" width="55.53" height="38.16" fill="#987ba2"/><rect x="1831.04" y="478.77" width="55.53" height="38.16" fill="#987ba3"/><rect x="1886.56" y="478.77" width="55.53" height="38.16" fill="#9c7fa6"/><rect x="1942.09" y="478.77" width="55.53" height="38.16" fill="#9c7fa6"/><rect x="1997.62" y="478.77" width="55.53" height="38.16" fill="#a386ab"/><rect x="2053.15" y="478.77" width="55.53" height="38.16" fill="#a98db1"/><rect x="2108.67" y="478.77" width="55.53" height="38.16" fill="#d8bfd8"/></g>
<path d="M1386.82 173.49V516.93M1442.34 173.49V516.93M1497.87 173.49V516.93M1553.4 173.49V516.93M1608.93 173.49V516.93M1664.45 173.49V516.93M1719.98 173.49V516.93M1775.51 173.49V516.93M1831.04 173.49V516.93M1886.56 173.49V516.93M1942.09 173.49V516.93M1997.62 173.49V516.93M2053.15 173.49V516.93M2108.67 173.49V516.93" stroke="#fbeffd" stroke-opacity="1" stroke-width="1.7" fill="none"/>
<path d="M1331.29 211.65H2164.2M1331.29 249.81H2164.2M1331.29 287.97H2164.2M1331.29 326.13H2164.2M1331.29 364.29H2164.2M1331.29 402.45H2164.2M1331.29 440.61H2164.2M1331.29 478.77H2164.2" stroke="#fbeffd" stroke-opacity="1" stroke-width="1.7" fill="none"/>
<g font-size="18.65" text-anchor="middle"><text class="w" transform="matrix(1 0.0005 0 1.02 1359.05 198.02)">0.88</text><text class="w" transform="matrix(1 0.0005 0 1.02 1414.58 198.02)">0.86</text><text class="w" transform="matrix(1 0.0005 0 1.02 1470.11 198.02)">0.88</text><text class="w" transform="matrix(1 0.0005 0 1.02 1525.64 198.02)">0.84</text><text class="w" transform="matrix(1 0.0005 0 1.02 1581.16 198.02)">0.84</text><text class="w" transform="matrix(1 0.0005 0 1.02 1636.69 198.02)">0.87</text><text class="w" transform="matrix(1 0.0005 0 1.02 1692.22 198.02)">0.85</text><text class="w" transform="matrix(1 0.0005 0 1.02 1747.74 198.02)">0.86</text><text class="w" transform="matrix(1 0.0005 0 1.02 1803.27 198.02)">0.80</text><text class="w" transform="matrix(1 0.0005 0 1.02 1858.8 198.02)">0.86</text><text class="w" transform="matrix(1 0.0005 0 1.02 1914.33 198.02)">0.84</text><text class="w" transform="matrix(1 0.0005 0 1.02 1969.85 198.02)">0.85</text><text class="k" transform="matrix(1 0.0005 0 1.02 2025.38 198.02)">0.73</text><text class="w" transform="matrix(1 0.0005 0 1.02 2080.91 198.02)">0.80</text><text class="w" transform="matrix(1 0.0005 0 1.02 2136.44 198.02)">0.81</text><text class="w" transform="matrix(1 0.0005 0 1.02 1359.05 236.18)">0.80</text><text class="w" transform="matrix(1 0.0005 0 1.02 1414.58 236.18)">0.79</text><text class="k" transform="matrix(1 0.0005 0 1.02 1470.11 236.18)">0.71</text><text class="w" transform="matrix(1 0.0005 0 1.02 1525.64 236.18)">0.81</text><text class="w" transform="matrix(1 0.0005 0 1.02 1581.16 236.18)">0.80</text><text class="w" transform="matrix(1 0.0005 0 1.02 1636.69 236.18)">0.79</text><text class="w" transform="matrix(1 0.0005 0 1.02 1692.22 236.18)">0.75</text><text class="w" transform="matrix(1 0.0005 0 1.02 1747.74 236.18)">0.74</text><text class="k" transform="matrix(1 0.0005 0 1.02 1803.27 236.18)">0.71</text><text class="w" transform="matrix(1 0.0005 0 1.02 1858.8 236.18)">0.74</text><text class="w" transform="matrix(1 0.0005 0 1.02 1914.33 236.18)">0.77</text><text class="w" transform="matrix(1 0.0005 0 1.02 1969.85 236.18)">0.77</text><text class="k" transform="matrix(1 0.0005 0 1.02 2025.38 236.18)">0.70</text><text class="k" transform="matrix(1 0.0005 0 1.02 2080.91 236.18)">0.71</text><text class="k" transform="matrix(1 0.0005 0 1.02 2136.44 236.18)">0.70</text><text class="w" transform="matrix(1 0.0005 0 1.02 1359.05 274.34)">0.74</text><text class="w" transform="matrix(1 0.0005 0 1.02 1414.58 274.34)">0.80</text><text class="w" transform="matrix(1 0.0005 0 1.02 1470.11 274.34)">0.79</text><text class="w" transform="matrix(1 0.0005 0 1.02 1525.64 274.34)">0.69</text><text class="w" transform="matrix(1 0.0005 0 1.02 1581.16 274.34)">0.72</text><text class="w" transform="matrix(1 0.0005 0 1.02 1636.69 274.34)">0.71</text><text class="w" transform="matrix(1 0.0005 0 1.02 1692.22 274.34)">0.75</text><text class="w" transform="matrix(1 0.0005 0 1.02 1747.74 274.34)">0.72</text><text class="w" transform="matrix(1 0.0005 0 1.02 1803.27 274.34)">0.74</text><text class="w" transform="matrix(1 0.0005 0 1.02 1858.8 274.34)">0.72</text><text class="w" transform="matrix(1 0.0005 0 1.02 1914.33 274.34)">0.69</text><text class="w" transform="matrix(1 0.0005 0 1.02 1969.85 274.34)">0.71</text><text class="w" transform="matrix(1 0.0005 0 1.02 2025.38 274.34)">0.77</text><text class="w" transform="matrix(1 0.0005 0 1.02 2080.91 274.34)">0.70</text><text class="k" transform="matrix(1 0.0005 0 1.02 2136.44 274.34)">0.61</text><text class="w" transform="matrix(1 0.0005 0 1.02 1359.05 312.5)">0.73</text><text class="w" transform="matrix(1 0.0005 0 1.02 1414.58 312.5)">0.81</text><text class="w" transform="matrix(1 0.0005 0 1.02 1470.11 312.5)">0.78</text><text class="w" transform="matrix(1 0.0005 0 1.02 1525.64 312.5)">0.68</text><text class="w" transform="matrix(1 0.0005 0 1.02 1581.16 312.5)">0.71</text><text class="w" transform="matrix(1 0.0005 0 1.02 1636.69 312.5)">0.74</text><text class="w" transform="matrix(1 0.0005 0 1.02 1692.22 312.5)">0.74</text><text class="w" transform="matrix(1 0.0005 0 1.02 1747.74 312.5)">0.71</text><text class="w" transform="matrix(1 0.0005 0 1.02 1803.27 312.5)">0.73</text><text class="w" transform="matrix(1 0.0005 0 1.02 1858.8 312.5)">0.74</text><text class="w" transform="matrix(1 0.0005 0 1.02 1914.33 312.5)">0.66</text><text class="w" transform="matrix(1 0.0005 0 1.02 1969.85 312.5)">0.69</text><text class="w" transform="matrix(1 0.0005 0 1.02 2025.38 312.5)">0.76</text><text class="w" transform="matrix(1 0.0005 0 1.02 2080.91 312.5)">0.69</text><text class="k" transform="matrix(1 0.0005 0 1.02 2136.44 312.5)">0.62</text><text class="w" transform="matrix(1 0.0005 0 1.02 1359.05 350.66)">0.72</text><text class="w" transform="matrix(1 0.0005 0 1.02 1414.58 350.66)">0.73</text><text class="k" transform="matrix(1 0.0005 0 1.02 1470.11 350.66)">0.64</text><text class="w" transform="matrix(1 0.0005 0 1.02 1525.64 350.66)">0.71</text><text class="w" transform="matrix(1 0.0005 0 1.02 1581.16 350.66)">0.68</text><text class="k" transform="matrix(1 0.0005 0 1.02 1636.69 350.66)">0.66</text><text class="w" transform="matrix(1 0.0005 0 1.02 1692.22 350.66)">0.68</text><text class="w" transform="matrix(1 0.0005 0 1.02 1747.74 350.66)">0.67</text><text class="w" transform="matrix(1 0.0005 0 1.02 1803.27 350.66)">0.72</text><text class="w" transform="matrix(1 0.0005 0 1.02 1858.8 350.66)">0.68</text><text class="w" transform="matrix(1 0.0005 0 1.02 1914.33 350.66)">0.68</text><text class="k" transform="matrix(1 0.0005 0 1.02 1969.85 350.66)">0.66</text><text class="w" transform="matrix(1 0.0005 0 1.02 2025.38 350.66)">0.68</text><text class="k" transform="matrix(1 0.0005 0 1.02 2080.91 350.66)">0.65</text><text class="k" transform="matrix(1 0.0005 0 1.02 2136.44 350.66)">0.66</text><text class="w" transform="matrix(1 0.0005 0 1.02 1359.05 388.82)">0.63</text><text class="w" transform="matrix(1 0.0005 0 1.02 1414.58 388.82)">0.62</text><text class="w" transform="matrix(1 0.0005 0 1.02 1470.11 388.82)">0.66</text><text class="w" transform="matrix(1 0.0005 0 1.02 1525.64 388.82)">0.63</text><text class="w" transform="matrix(1 0.0005 0 1.02 1581.16 388.82)">0.60</text><text class="w" transform="matrix(1 0.0005 0 1.02 1636.69 388.82)">0.61</text><text class="k" transform="matrix(1 0.0005 0 1.02 1692.22 388.82)">0.58</text><text class="w" transform="matrix(1 0.0005 0 1.02 1747.74 388.82)">0.63</text><text class="w" transform="matrix(1 0.0005 0 1.02 1803.27 388.82)">0.59</text><text class="w" transform="matrix(1 0.0005 0 1.02 1858.8 388.82)">0.63</text><text class="w" transform="matrix(1 0.0005 0 1.02 1914.33 388.82)">0.63</text><text class="w" transform="matrix(1 0.0005 0 1.02 1969.85 388.82)">0.63</text><text class="w" transform="matrix(1 0.0005 0 1.02 2025.38 388.82)">0.61</text><text class="w" transform="matrix(1 0.0005 0 1.02 2080.91 388.82)">0.61</text><text class="w" transform="matrix(1 0.0005 0 1.02 2136.44 388.82)">0.63</text><text class="w" transform="matrix(1 0.0005 0 1.02 1359.05 426.98)">0.72</text><text class="w" transform="matrix(1 0.0005 0 1.02 1414.58 426.98)">0.60</text><text class="k" transform="matrix(1 0.0005 0 1.02 1470.11 426.98)">0.50</text><text class="w" transform="matrix(1 0.0005 0 1.02 1525.64 426.98)">0.63</text><text class="w" transform="matrix(1 0.0005 0 1.02 1581.16 426.98)">0.61</text><text class="w" transform="matrix(1 0.0005 0 1.02 1636.69 426.98)">0.56</text><text class="w" transform="matrix(1 0.0005 0 1.02 1692.22 426.98)">0.57</text><text class="w" transform="matrix(1 0.0005 0 1.02 1747.74 426.98)">0.57</text><text class="w" transform="matrix(1 0.0005 0 1.02 1803.27 426.98)">0.58</text><text class="w" transform="matrix(1 0.0005 0 1.02 1858.8 426.98)">0.56</text><text class="w" transform="matrix(1 0.0005 0 1.02 1914.33 426.98)">0.62</text><text class="w" transform="matrix(1 0.0005 0 1.02 1969.85 426.98)">0.56</text><text class="w" transform="matrix(1 0.0005 0 1.02 2025.38 426.98)">0.58</text><text class="w" transform="matrix(1 0.0005 0 1.02 2080.91 426.98)">0.57</text><text class="w" transform="matrix(1 0.0005 0 1.02 2136.44 426.98)">0.59</text><text class="w" transform="matrix(1 0.0005 0 1.02 1359.05 465.14)">0.54</text><text class="w" transform="matrix(1 0.0005 0 1.02 1414.58 465.14)">0.53</text><text class="w" transform="matrix(1 0.0005 0 1.02 1470.11 465.14)">0.53</text><text class="w" transform="matrix(1 0.0005 0 1.02 1525.64 465.14)">0.51</text><text class="w" transform="matrix(1 0.0005 0 1.02 1581.16 465.14)">0.51</text><text class="w" transform="matrix(1 0.0005 0 1.02 1636.69 465.14)">0.53</text><text class="w" transform="matrix(1 0.0005 0 1.02 1692.22 465.14)">0.54</text><text class="w" transform="matrix(1 0.0005 0 1.02 1747.74 465.14)">0.50</text><text class="w" transform="matrix(1 0.0005 0 1.02 1803.27 465.14)">0.53</text><text class="k" transform="matrix(1 0.0005 0 1.02 1858.8 465.14)">0.47</text><text class="w" transform="matrix(1 0.0005 0 1.02 1914.33 465.14)">0.49</text><text class="w" transform="matrix(1 0.0005 0 1.02 1969.85 465.14)">0.51</text><text class="w" transform="matrix(1 0.0005 0 1.02 2025.38 465.14)">0.52</text><text class="w" transform="matrix(1 0.0005 0 1.02 2080.91 465.14)">0.59</text><text class="k" transform="matrix(1 0.0005 0 1.02 2136.44 465.14)">0.48</text><text class="w" transform="matrix(1 0.0005 0 1.02 1359.05 503.3)">0.72</text><text class="w" transform="matrix(1 0.0005 0 1.02 1414.58 503.3)">0.72</text><text class="w" transform="matrix(1 0.0005 0 1.02 1470.11 503.3)">0.69</text><text class="w" transform="matrix(1 0.0005 0 1.02 1525.64 503.3)">0.68</text><text class="w" transform="matrix(1 0.0005 0 1.02 1581.16 503.3)">0.68</text><text class="w" transform="matrix(1 0.0005 0 1.02 1636.69 503.3)">0.68</text><text class="w" transform="matrix(1 0.0005 0 1.02 1692.22 503.3)">0.68</text><text class="w" transform="matrix(1 0.0005 0 1.02 1747.74 503.3)">0.68</text><text class="w" transform="matrix(1 0.0005 0 1.02 1803.27 503.3)">0.68</text><text class="w" transform="matrix(1 0.0005 0 1.02 1858.8 503.3)">0.67</text><text class="w" transform="matrix(1 0.0005 0 1.02 1914.33 503.3)">0.67</text><text class="w" transform="matrix(1 0.0005 0 1.02 1969.85 503.3)">0.67</text><text class="w" transform="matrix(1 0.0005 0 1.02 2025.38 503.3)">0.67</text><text class="w" transform="matrix(1 0.0005 0 1.02 2080.91 503.3)">0.67</text><text class="k" transform="matrix(1 0.0005 0 1.02 2136.44 503.3)">0.64</text></g>
<path d="M1325.15 193.07H1332.09M1325.15 231.23H1332.09M1325.15 269.39H1332.09M1325.15 307.55H1332.09M1325.15 345.71H1332.09M1325.15 383.87H1332.09M1325.15 422.03H1332.09M1325.15 460.19H1332.09M1325.15 498.35H1332.09M1359.05 516.13V523.57M1414.58 516.13V523.57M1470.11 516.13V523.57M1525.64 516.13V523.57M1581.16 516.13V523.57M1636.69 516.13V523.57M1692.22 516.13V523.57M1747.74 516.13V523.57M1803.27 516.13V523.57M1858.8 516.13V523.57M1914.33 516.13V523.57M1969.85 516.13V523.57M2025.38 516.13V523.57M2080.91 516.13V523.57M2136.44 516.13V523.57" stroke="#000" stroke-width="1.75" fill="none"/>
<g font-size="18.96" text-anchor="end" fill="#000"><text transform="matrix(1 0.0005 0 1.02 1318.02 197.92)">KIEL STAD EBV</text><text transform="matrix(1 0.0005 0 1.02 1318.02 236.08)">KIEL STAD LAUREN</text><text transform="matrix(1 0.0005 0 1.02 1318.02 274.24)">BERN STAD MSI</text><text transform="matrix(1 0.0005 0 1.02 1318.02 312.4)">KIEL STAD MSI</text><text transform="matrix(1 0.0005 0 1.02 1318.02 350.56)">BERN STAD LAUREN</text><text transform="matrix(1 0.0005 0 1.02 1318.02 388.72)">KIEL STAD N STATUS</text><text transform="matrix(1 0.0005 0 1.02 1318.02 426.88)">BERN STAD N STATUS</text><text transform="matrix(1 0.0005 0 1.02 1318.02 465.04)">KIEL STAD M STATUS</text><text transform="matrix(1 0.0005 0 1.02 1318.02 503.2)">Average</text></g>
<g font-size="18.96" text-anchor="end" fill="#000"><text transform="translate(1356.24 540.69) rotate(-45)">CONCH</text><text transform="translate(1411.77 540.69) rotate(-45)">Virchow2</text><text transform="translate(1467.29 540.69) rotate(-45)">ProvGigaPath</text><text transform="translate(1522.82 540.69) rotate(-45)">DinoSSLPath</text><text transform="translate(1578.35 540.69) rotate(-45)">Virchow</text><text transform="translate(1633.87 540.69) rotate(-45)">Panakeia*</text><text transform="translate(1689.4 540.69) rotate(-45)">H-optimus-0</text><text transform="translate(1744.93 540.69) rotate(-45)">UNI</text><text transform="translate(1800.46 540.69) rotate(-45)">Hibou-L</text><text transform="translate(1855.98 540.69) rotate(-45)">Hibou-B</text><text transform="translate(1911.51 540.69) rotate(-45)">BiomedCLIP</text><text transform="translate(1967.04 540.69) rotate(-45)">CTransPath</text><text transform="translate(2022.57 540.69) rotate(-45)">Kaiko</text><text transform="translate(2078.09 540.69) rotate(-45)">Phikon</text><text transform="translate(2133.62 540.69) rotate(-45)">PLIP</text></g>
<text transform="matrix(1 0.0005 0 1.03 1638.8 136)" font-size="22.75" text-anchor="middle" fill="#000">AUROC Scores (Average) - STAD Tasks</text>
</g>
<g>
<clipPath id="cp-brca"><rect x="1318.61" y="765.5" width="844.74" height="245.97"/></clipPath>
<g clip-path="url(#cp-brca)"><rect x="1317.76" y="764.65" width="56.43" height="41.28" fill="#7d5f8c"/><rect x="1374.19" y="764.65" width="56.43" height="41.28" fill="#9c7fa5"/><rect x="1430.62" y="764.65" width="56.43" height="41.28" fill="#5f3e73"/><rect x="1487.05" y="764.65" width="56.43" height="41.28" fill="#9c7fa5"/><rect x="1543.48" y="764.65" width="56.43" height="41.28" fill="#55346a"/><rect x="1599.91" y="764.65" width="56.43" height="41.28" fill="#7d5f8c"/><rect x="1656.34" y="764.65" width="56.43" height="41.28" fill="#7d5f8c"/><rect x="1712.77" y="764.65" width="56.43" height="41.28" fill="#735484"/><rect x="1769.19" y="764.65" width="56.43" height="41.28" fill="#876995"/><rect x="1825.62" y="764.65" width="56.43" height="41.28" fill="#4b2962"/><rect x="1882.05" y="764.65" width="56.43" height="41.28" fill="#69497b"/><rect x="1938.48" y="764.65" width="56.43" height="41.28" fill="#9c7fa5"/><rect x="1994.91" y="764.65" width="56.43" height="41.28" fill="#7d5f8c"/><rect x="2051.34" y="764.65" width="56.43" height="41.28" fill="#876995"/><rect x="2107.77" y="764.65" width="56.43" height="41.28" fill="#d8bfd8"/><rect x="1317.76" y="805.93" width="56.43" height="41.28" fill="#987ba2"/><rect x="1374.19" y="805.93" width="56.43" height="41.28" fill="#7e608d"/><rect x="1430.62" y="805.93" width="56.43" height="41.28" fill="#4b2962"/><rect x="1487.05" y="805.93" width="56.43" height="41.28" fill="#987ba2"/><rect x="1543.48" y="805.93" width="56.43" height="41.28" fill="#7e608d"/><rect x="1599.91" y="805.93" width="56.43" height="41.28" fill="#715282"/><rect x="1656.34" y="805.93" width="56.43" height="41.28" fill="#987ba2"/><rect x="1712.77" y="805.93" width="56.43" height="41.28" fill="#8b6d98"/><rect x="1769.19" y="805.93" width="56.43" height="41.28" fill="#8b6d98"/><rect x="1825.62" y="805.93" width="56.43" height="41.28" fill="#bba0bf"/><rect x="1882.05" y="805.93" width="56.43" height="41.28" fill="#a588ad"/><rect x="1938.48" y="805.93" width="56.43" height="41.28" fill="#987ba2"/><rect x="1994.91" y="805.93" width="56.43" height="41.28" fill="#987ba2"/><rect x="2051.34" y="805.93" width="56.43" height="41.28" fill="#987ba2"/><rect x="2107.77" y="805.93" width="56.43" height="41.28" fill="#d8bfd8"/><rect x="1317.76" y="847.21" width="56.43" height="41.28" fill="#4b2962"/><rect x="1374.19" y="847.21" width="56.43" height="41.28" fill="#715181"/><rect x="1430.62" y="847.21" width="56.43" height="41.28" fill="#8d6f99"/><rect x="1487.05" y="847.21" width="56.43" height="41.28" fill="#7a5b89"/><rect x="1543.48" y="847.21" width="56.43" height="41.28" fill="#b297b9"/><rect x="1599.91" y="847.21" width="56.43" height="41.28" fill="#a083a9"/><rect x="1656.34" y="847.21" width="56.43" height="41.28" fill="#836591"/><rect x="1712.77" y="847.21" width="56.43" height="41.28" fill="#8d6f99"/><rect x="1769.19" y="847.21" width="56.43" height="41.28" fill="#b297b9"/><rect x="1825.62" y="847.21" width="56.43" height="41.28" fill="#b297b9"/><rect x="1882.05" y="847.21" width="56.43" height="41.28" fill="#d8bfd8"/><rect x="1938.48" y="847.21" width="56.43" height="41.28" fill="#a083a9"/><rect x="1994.91" y="847.21" width="56.43" height="41.28" fill="#d8bfd8"/><rect x="2051.34" y="847.21" width="56.43" height="41.28" fill="#d8bfd8"/><rect x="2107.77" y="847.21" width="56.43" height="41.28" fill="#b297b9"/><rect x="1317.76" y="888.49" width="56.43" height="41.28" fill="#4b2962"/><rect x="1374.19" y="888.49" width="56.43" height="41.28" fill="#523168"/><rect x="1430.62" y="888.49" width="56.43" height="41.28" fill="#8e709a"/><rect x="1487.05" y="888.49" width="56.43" height="41.28" fill="#614175"/><rect x="1543.48" y="888.49" width="56.43" height="41.28" fill="#69497b"/><rect x="1599.91" y="888.49" width="56.43" height="41.28" fill="#866894"/><rect x="1656.34" y="888.49" width="56.43" height="41.28" fill="#9d80a6"/><rect x="1712.77" y="888.49" width="56.43" height="41.28" fill="#9d80a6"/><rect x="1769.19" y="888.49" width="56.43" height="41.28" fill="#866894"/><rect x="1825.62" y="888.49" width="56.43" height="41.28" fill="#9d80a6"/><rect x="1882.05" y="888.49" width="56.43" height="41.28" fill="#9d80a6"/><rect x="1938.48" y="888.49" width="56.43" height="41.28" fill="#b398b9"/><rect x="1994.91" y="888.49" width="56.43" height="41.28" fill="#ab90b3"/><rect x="2051.34" y="888.49" width="56.43" height="41.28" fill="#c9afcc"/><rect x="2107.77" y="888.49" width="56.43" height="41.28" fill="#d8bfd8"/><rect x="1317.76" y="929.76" width="56.43" height="41.28" fill="#59386e"/><rect x="1374.19" y="929.76" width="56.43" height="41.28" fill="#866894"/><rect x="1430.62" y="929.76" width="56.43" height="41.28" fill="#b195b7"/><rect x="1487.05" y="929.76" width="56.43" height="41.28" fill="#4b2962"/><rect x="1543.48" y="929.76" width="56.43" height="41.28" fill="#bba0bf"/><rect x="1599.91" y="929.76" width="56.43" height="41.28" fill="#8f719b"/><rect x="1656.34" y="929.76" width="56.43" height="41.28" fill="#9678a1"/><rect x="1712.77" y="929.76" width="56.43" height="41.28" fill="#c4aac7"/><rect x="1769.19" y="929.76" width="56.43" height="41.28" fill="#b89cbd"/><rect x="1825.62" y="929.76" width="56.43" height="41.28" fill="#b89cbd"/><rect x="1882.05" y="929.76" width="56.43" height="41.28" fill="#a286ab"/><rect x="1938.48" y="929.76" width="56.43" height="41.28" fill="#d8bfd8"/><rect x="1994.91" y="929.76" width="56.43" height="41.28" fill="#d8bfd8"/><rect x="2051.34" y="929.76" width="56.43" height="41.28" fill="#8c6e98"/><rect x="2107.77" y="929.76" width="56.43" height="41.28" fill="#a88cb0"/><rect x="1317.76" y="971.04" width="56.43" height="41.28" fill="#4b2962"/><rect x="1374.19" y="971.04" width="56.43" height="41.28" fill="#603f74"/><rect x="1430.62" y="971.04" width="56.43" height="41.28" fill="#69497b"/><rect x="1487.05" y="971.04" width="56.43" height="41.28" fill="#69497b"/><rect x="1543.48" y="971.04" width="56.43" height="41.28" fill="#6f4f80"/><rect x="1599.91" y="971.04" width="56.43" height="41.28" fill="#7b5c8a"/><rect x="1656.34" y="971.04" width="56.43" height="41.28" fill="#846692"/><rect x="1712.77" y="971.04" width="56.43" height="41.28" fill="#846692"/><rect x="1769.19" y="971.04" width="56.43" height="41.28" fill="#8b6d98"/><rect x="1825.62" y="971.04" width="56.43" height="41.28" fill="#90729c"/><rect x="1882.05" y="971.04" width="56.43" height="41.28" fill="#9c7fa6"/><rect x="1938.48" y="971.04" width="56.43" height="41.28" fill="#a589ad"/><rect x="1994.91" y="971.04" width="56.43" height="41.28" fill="#ab8fb2"/><rect x="2051.34" y="971.04" width="56.43" height="41.28" fill="#b499ba"/><rect x="2107.77" y="971.04" width="56.43" height="41.28" fill="#d8bfd8"/></g>
<path d="M1374.19 764.65V1012.32M1430.62 764.65V1012.32M1487.05 764.65V1012.32M1543.48 764.65V1012.32M1599.91 764.65V1012.32M1656.34 764.65V1012.32M1712.77 764.65V1012.32M1769.19 764.65V1012.32M1825.62 764.65V1012.32M1882.05 764.65V1012.32M1938.48 764.65V1012.32M1994.91 764.65V1012.32M2051.34 764.65V1012.32M2107.77 764.65V1012.32" stroke="#fbeffd" stroke-opacity="1" stroke-width="1.7" fill="none"/>
<path d="M1317.76 805.93H2164.2M1317.76 847.21H2164.2M1317.76 888.49H2164.2M1317.76 929.76H2164.2M1317.76 971.04H2164.2" stroke="#fbeffd" stroke-opacity="1" stroke-width="1.7" fill="none"/>
<g font-size="18.65" text-anchor="middle"><text class="w" transform="matrix(1 0.0005 0 1.02 1345.97 790.74)">0.85</text><text class="w" transform="matrix(1 0.0005 0 1.02 1402.4 790.74)">0.82</text><text class="w" transform="matrix(1 0.0005 0 1.02 1458.83 790.74)">0.88</text><text class="w" transform="matrix(1 0.0005 0 1.02 1515.26 790.74)">0.82</text><text class="w" transform="matrix(1 0.0005 0 1.02 1571.69 790.74)">0.89</text><text class="w" transform="matrix(1 0.0005 0 1.02 1628.12 790.74)">0.85</text><text class="w" transform="matrix(1 0.0005 0 1.02 1684.55 790.74)">0.85</text><text class="w" transform="matrix(1 0.0005 0 1.02 1740.98 790.74)">0.86</text><text class="w" transform="matrix(1 0.0005 0 1.02 1797.41 790.74)">0.84</text><text class="w" transform="matrix(1 0.0005 0 1.02 1853.84 790.74)">0.90</text><text class="w" transform="matrix(1 0.0005 0 1.02 1910.27 790.74)">0.87</text><text class="w" transform="matrix(1 0.0005 0 1.02 1966.7 790.74)">0.82</text><text class="w" transform="matrix(1 0.0005 0 1.02 2023.13 790.74)">0.85</text><text class="w" transform="matrix(1 0.0005 0 1.02 2079.56 790.74)">0.84</text><text class="k" transform="matrix(1 0.0005 0 1.02 2135.99 790.74)">0.76</text><text class="w" transform="matrix(1 0.0005 0 1.02 1345.97 832.02)">0.78</text><text class="w" transform="matrix(1 0.0005 0 1.02 1402.4 832.02)">0.80</text><text class="w" transform="matrix(1 0.0005 0 1.02 1458.83 832.02)">0.84</text><text class="w" transform="matrix(1 0.0005 0 1.02 1515.26 832.02)">0.78</text><text class="w" transform="matrix(1 0.0005 0 1.02 1571.69 832.02)">0.80</text><text class="w" transform="matrix(1 0.0005 0 1.02 1628.12 832.02)">0.81</text><text class="w" transform="matrix(1 0.0005 0 1.02 1684.55 832.02)">0.78</text><text class="w" transform="matrix(1 0.0005 0 1.02 1740.98 832.02)">0.79</text><text class="w" transform="matrix(1 0.0005 0 1.02 1797.41 832.02)">0.79</text><text class="w" transform="matrix(1 0.0005 0 1.02 1853.84 832.02)">0.75</text><text class="w" transform="matrix(1 0.0005 0 1.02 1910.27 832.02)">0.77</text><text class="w" transform="matrix(1 0.0005 0 1.02 1966.7 832.02)">0.78</text><text class="w" transform="matrix(1 0.0005 0 1.02 2023.13 832.02)">0.78</text><text class="w" transform="matrix(1 0.0005 0 1.02 2079.56 832.02)">0.78</text><text class="k" transform="matrix(1 0.0005 0 1.02 2135.99 832.02)">0.73</text><text class="w" transform="matrix(1 0.0005 0 1.02 1345.97 873.3)">0.72</text><text class="w" transform="matrix(1 0.0005 0 1.02 1402.4 873.3)">0.68</text><text class="w" transform="matrix(1 0.0005 0 1.02 1458.83 873.3)">0.65</text><text class="w" transform="matrix(1 0.0005 0 1.02 1515.26 873.3)">0.67</text><text class="w" transform="matrix(1 0.0005 0 1.02 1571.69 873.3)">0.61</text><text class="w" transform="matrix(1 0.0005 0 1.02 1628.12 873.3)">0.63</text><text class="w" transform="matrix(1 0.0005 0 1.02 1684.55 873.3)">0.66</text><text class="w" transform="matrix(1 0.0005 0 1.02 1740.98 873.3)">0.65</text><text class="w" transform="matrix(1 0.0005 0 1.02 1797.41 873.3)">0.61</text><text class="w" transform="matrix(1 0.0005 0 1.02 1853.84 873.3)">0.61</text><text class="k" transform="matrix(1 0.0005 0 1.02 1910.27 873.3)">0.57</text><text class="w" transform="matrix(1 0.0005 0 1.02 1966.7 873.3)">0.63</text><text class="k" transform="matrix(1 0.0005 0 1.02 2023.13 873.3)">0.57</text><text class="k" transform="matrix(1 0.0005 0 1.02 2079.56 873.3)">0.57</text><text class="w" transform="matrix(1 0.0005 0 1.02 2135.99 873.3)">0.61</text><text class="w" transform="matrix(1 0.0005 0 1.02 1345.97 914.57)">0.70</text><text class="w" transform="matrix(1 0.0005 0 1.02 1402.4 914.57)">0.69</text><text class="w" transform="matrix(1 0.0005 0 1.02 1458.83 914.57)">0.61</text><text class="w" transform="matrix(1 0.0005 0 1.02 1515.26 914.57)">0.67</text><text class="w" transform="matrix(1 0.0005 0 1.02 1571.69 914.57)">0.66</text><text class="w" transform="matrix(1 0.0005 0 1.02 1628.12 914.57)">0.62</text><text class="w" transform="matrix(1 0.0005 0 1.02 1684.55 914.57)">0.59</text><text class="w" transform="matrix(1 0.0005 0 1.02 1740.98 914.57)">0.59</text><text class="w" transform="matrix(1 0.0005 0 1.02 1797.41 914.57)">0.62</text><text class="w" transform="matrix(1 0.0005 0 1.02 1853.84 914.57)">0.59</text><text class="w" transform="matrix(1 0.0005 0 1.02 1910.27 914.57)">0.59</text><text class="w" transform="matrix(1 0.0005 0 1.02 1966.7 914.57)">0.56</text><text class="w" transform="matrix(1 0.0005 0 1.02 2023.13 914.57)">0.57</text><text class="k" transform="matrix(1 0.0005 0 1.02 2079.56 914.57)">0.53</text><text class="k" transform="matrix(1 0.0005 0 1.02 2135.99 914.57)">0.51</text><text class="w" transform="matrix(1 0.0005 0 1.02 1345.97 955.85)">0.59</text><text class="w" transform="matrix(1 0.0005 0 1.02 1402.4 955.85)">0.58</text><text class="w" transform="matrix(1 0.0005 0 1.02 1458.83 955.85)">0.56</text><text class="w" transform="matrix(1 0.0005 0 1.02 1515.26 955.85)">0.60</text><text class="w" transform="matrix(1 0.0005 0 1.02 1571.69 955.85)">0.56</text><text class="w" transform="matrix(1 0.0005 0 1.02 1628.12 955.85)">0.57</text><text class="w" transform="matrix(1 0.0005 0 1.02 1684.55 955.85)">0.57</text><text class="k" transform="matrix(1 0.0005 0 1.02 1740.98 955.85)">0.56</text><text class="w" transform="matrix(1 0.0005 0 1.02 1797.41 955.85)">0.56</text><text class="w" transform="matrix(1 0.0005 0 1.02 1853.84 955.85)">0.56</text><text class="w" transform="matrix(1 0.0005 0 1.02 1910.27 955.85)">0.57</text><text class="k" transform="matrix(1 0.0005 0 1.02 1966.7 955.85)">0.55</text><text class="k" transform="matrix(1 0.0005 0 1.02 2023.13 955.85)">0.55</text><text class="w" transform="matrix(1 0.0005 0 1.02 2079.56 955.85)">0.57</text><text class="w" transform="matrix(1 0.0005 0 1.02 2135.99 955.85)">0.56</text><text class="w" transform="matrix(1 0.0005 0 1.02 1345.97 997.13)">0.73</text><text class="w" transform="matrix(1 0.0005 0 1.02 1402.4 997.13)">0.71</text><text class="w" transform="matrix(1 0.0005 0 1.02 1458.83 997.13)">0.71</text><text class="w" transform="matrix(1 0.0005 0 1.02 1515.26 997.13)">0.71</text><text class="w" transform="matrix(1 0.0005 0 1.02 1571.69 997.13)">0.70</text><text class="w" transform="matrix(1 0.0005 0 1.02 1628.12 997.13)">0.70</text><text class="w" transform="matrix(1 0.0005 0 1.02 1684.55 997.13)">0.69</text><text class="w" transform="matrix(1 0.0005 0 1.02 1740.98 997.13)">0.69</text><text class="w" transform="matrix(1 0.0005 0 1.02 1797.41 997.13)">0.69</text><text class="w" transform="matrix(1 0.0005 0 1.02 1853.84 997.13)">0.68</text><text class="w" transform="matrix(1 0.0005 0 1.02 1910.27 997.13)">0.67</text><text class="w" transform="matrix(1 0.0005 0 1.02 1966.7 997.13)">0.67</text><text class="w" transform="matrix(1 0.0005 0 1.02 2023.13 997.13)">0.66</text><text class="w" transform="matrix(1 0.0005 0 1.02 2079.56 997.13)">0.66</text><text class="k" transform="matrix(1 0.0005 0 1.02 2135.99 997.13)">0.63</text></g>
<path d="M1311.62 785.79H1318.56M1311.62 827.07H1318.56M1311.62 868.35H1318.56M1311.62 909.62H1318.56M1311.62 950.9H1318.56M1311.62 992.18H1318.56M1345.97 1011.52V1018.96M1402.4 1011.52V1018.96M1458.83 1011.52V1018.96M1515.26 1011.52V1018.96M1571.69 1011.52V1018.96M1628.12 1011.52V1018.96M1684.55 1011.52V1018.96M1740.98 1011.52V1018.96M1797.41 1011.52V1018.96M1853.84 1011.52V1018.96M1910.27 1011.52V1018.96M1966.7 1011.52V1018.96M2023.13 1011.52V1018.96M2079.56 1011.52V1018.96M2135.99 1011.52V1018.96" stroke="#000" stroke-width="1.75" fill="none"/>
<g font-size="18.96" text-anchor="end" fill="#000"><text transform="matrix(1 0.0005 0 1.02 1304.49 790.64)">CPTAC BRCA ESR1</text><text transform="matrix(1 0.0005 0 1.02 1304.49 831.92)">CPTAC BRCA PGR</text><text transform="matrix(1 0.0005 0 1.02 1304.49 873.2)">CPTAC BRCA PIK3CA</text><text transform="matrix(1 0.0005 0 1.02 1304.49 914.47)">CPTAC BRCA ERBB2</text><text transform="matrix(1 0.0005 0 1.02 1304.49 955.75)">IEO BRCA N STATUS</text><text transform="matrix(1 0.0005 0 1.02 1304.49 997.03)">Average</text></g>
<g font-size="18.96" text-anchor="end" fill="#000"><text transform="translate(1343.16 1036.08) rotate(-45)">BiomedCLIP</text><text transform="translate(1399.59 1036.08) rotate(-45)">CONCH</text><text transform="translate(1456.02 1036.08) rotate(-45)">Panakeia*</text><text transform="translate(1512.45 1036.08) rotate(-45)">PLIP</text><text transform="translate(1568.88 1036.08) rotate(-45)">Virchow2</text><text transform="translate(1625.31 1036.08) rotate(-45)">DinoSSLPath</text><text transform="translate(1681.74 1036.08) rotate(-45)">CTransPath</text><text transform="translate(1738.16 1036.08) rotate(-45)">UNI</text><text transform="translate(1794.59 1036.08) rotate(-45)">Kaiko</text><text transform="translate(1851.02 1036.08) rotate(-45)">Hibou-L</text><text transform="translate(1907.45 1036.08) rotate(-45)">Hibou-B</text><text transform="translate(1963.88 1036.08) rotate(-45)">ProvGigaPath</text><text transform="translate(2020.31 1036.08) rotate(-45)">H-optimus-0</text><text transform="translate(2076.74 1036.08) rotate(-45)">Virchow</text><text transform="translate(2133.17 1036.08) rotate(-45)">Phikon</text></g>
<text transform="matrix(1 0.0005 0 1.03 1638.8 725.4)" font-size="22.75" text-anchor="middle" fill="#000">AUROC Scores (Average) - BRCA Tasks</text>
</g>
</svg>
</body></html>
